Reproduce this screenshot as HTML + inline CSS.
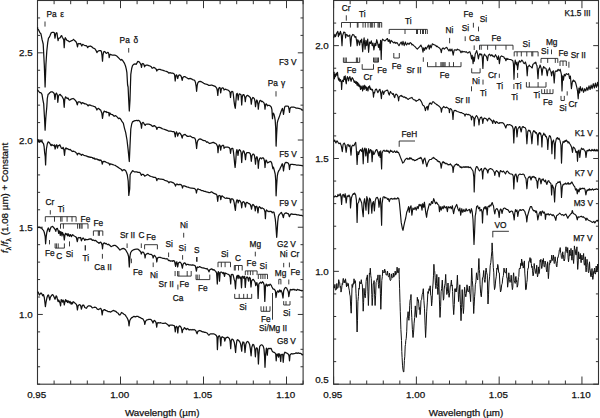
<!DOCTYPE html>
<html><head><meta charset="utf-8"><style>
html,body{margin:0;padding:0;background:#fff;width:600px;height:418px;overflow:hidden}
svg{display:block}
text{font-family:"Liberation Sans",sans-serif;fill:#111;stroke:#111;stroke-width:0.25px}
</style></head><body>
<svg width="600" height="418" viewBox="0 0 600 418">
<rect x="37.5" y="0.5" width="265.60" height="383.70" fill="none" stroke="#333" stroke-width="1.1"/>
<line x1="37.50" y1="384.20" x2="37.50" y2="376.50" stroke="#333" stroke-width="1.0"/>
<line x1="37.50" y1="0.50" x2="37.50" y2="8.20" stroke="#333" stroke-width="1.0"/>
<text x="36.70" y="398.30" font-size="9.8" text-anchor="middle" >0.95</text>
<line x1="54.10" y1="384.20" x2="54.10" y2="380.50" stroke="#333" stroke-width="1.0"/>
<line x1="54.10" y1="0.50" x2="54.10" y2="4.20" stroke="#333" stroke-width="1.0"/>
<line x1="70.70" y1="384.20" x2="70.70" y2="380.50" stroke="#333" stroke-width="1.0"/>
<line x1="70.70" y1="0.50" x2="70.70" y2="4.20" stroke="#333" stroke-width="1.0"/>
<line x1="87.30" y1="384.20" x2="87.30" y2="380.50" stroke="#333" stroke-width="1.0"/>
<line x1="87.30" y1="0.50" x2="87.30" y2="4.20" stroke="#333" stroke-width="1.0"/>
<line x1="103.90" y1="384.20" x2="103.90" y2="380.50" stroke="#333" stroke-width="1.0"/>
<line x1="103.90" y1="0.50" x2="103.90" y2="4.20" stroke="#333" stroke-width="1.0"/>
<line x1="120.50" y1="384.20" x2="120.50" y2="376.50" stroke="#333" stroke-width="1.0"/>
<line x1="120.50" y1="0.50" x2="120.50" y2="8.20" stroke="#333" stroke-width="1.0"/>
<text x="119.70" y="398.30" font-size="9.8" text-anchor="middle" >1.00</text>
<line x1="137.10" y1="384.20" x2="137.10" y2="380.50" stroke="#333" stroke-width="1.0"/>
<line x1="137.10" y1="0.50" x2="137.10" y2="4.20" stroke="#333" stroke-width="1.0"/>
<line x1="153.70" y1="384.20" x2="153.70" y2="380.50" stroke="#333" stroke-width="1.0"/>
<line x1="153.70" y1="0.50" x2="153.70" y2="4.20" stroke="#333" stroke-width="1.0"/>
<line x1="170.30" y1="384.20" x2="170.30" y2="380.50" stroke="#333" stroke-width="1.0"/>
<line x1="170.30" y1="0.50" x2="170.30" y2="4.20" stroke="#333" stroke-width="1.0"/>
<line x1="186.90" y1="384.20" x2="186.90" y2="380.50" stroke="#333" stroke-width="1.0"/>
<line x1="186.90" y1="0.50" x2="186.90" y2="4.20" stroke="#333" stroke-width="1.0"/>
<line x1="203.50" y1="384.20" x2="203.50" y2="376.50" stroke="#333" stroke-width="1.0"/>
<line x1="203.50" y1="0.50" x2="203.50" y2="8.20" stroke="#333" stroke-width="1.0"/>
<text x="202.70" y="398.30" font-size="9.8" text-anchor="middle" >1.05</text>
<line x1="220.10" y1="384.20" x2="220.10" y2="380.50" stroke="#333" stroke-width="1.0"/>
<line x1="220.10" y1="0.50" x2="220.10" y2="4.20" stroke="#333" stroke-width="1.0"/>
<line x1="236.70" y1="384.20" x2="236.70" y2="380.50" stroke="#333" stroke-width="1.0"/>
<line x1="236.70" y1="0.50" x2="236.70" y2="4.20" stroke="#333" stroke-width="1.0"/>
<line x1="253.30" y1="384.20" x2="253.30" y2="380.50" stroke="#333" stroke-width="1.0"/>
<line x1="253.30" y1="0.50" x2="253.30" y2="4.20" stroke="#333" stroke-width="1.0"/>
<line x1="269.90" y1="384.20" x2="269.90" y2="380.50" stroke="#333" stroke-width="1.0"/>
<line x1="269.90" y1="0.50" x2="269.90" y2="4.20" stroke="#333" stroke-width="1.0"/>
<line x1="286.50" y1="384.20" x2="286.50" y2="376.50" stroke="#333" stroke-width="1.0"/>
<line x1="286.50" y1="0.50" x2="286.50" y2="8.20" stroke="#333" stroke-width="1.0"/>
<text x="285.70" y="398.30" font-size="9.8" text-anchor="middle" >1.10</text>
<line x1="303.10" y1="384.20" x2="303.10" y2="380.50" stroke="#333" stroke-width="1.0"/>
<line x1="303.10" y1="0.50" x2="303.10" y2="4.20" stroke="#333" stroke-width="1.0"/>
<line x1="37.50" y1="384.20" x2="40.10" y2="384.20" stroke="#333" stroke-width="1.0"/>
<line x1="303.10" y1="384.20" x2="300.50" y2="384.20" stroke="#333" stroke-width="1.0"/>
<line x1="37.50" y1="366.76" x2="40.10" y2="366.76" stroke="#333" stroke-width="1.0"/>
<line x1="303.10" y1="366.76" x2="300.50" y2="366.76" stroke="#333" stroke-width="1.0"/>
<line x1="37.50" y1="349.32" x2="40.10" y2="349.32" stroke="#333" stroke-width="1.0"/>
<line x1="303.10" y1="349.32" x2="300.50" y2="349.32" stroke="#333" stroke-width="1.0"/>
<line x1="37.50" y1="331.88" x2="40.10" y2="331.88" stroke="#333" stroke-width="1.0"/>
<line x1="303.10" y1="331.88" x2="300.50" y2="331.88" stroke="#333" stroke-width="1.0"/>
<line x1="37.50" y1="314.44" x2="42.80" y2="314.44" stroke="#333" stroke-width="1.0"/>
<line x1="303.10" y1="314.44" x2="297.80" y2="314.44" stroke="#333" stroke-width="1.0"/>
<text x="32.70" y="317.94" font-size="9.8" text-anchor="end" >1.0</text>
<line x1="37.50" y1="297.00" x2="40.10" y2="297.00" stroke="#333" stroke-width="1.0"/>
<line x1="303.10" y1="297.00" x2="300.50" y2="297.00" stroke="#333" stroke-width="1.0"/>
<line x1="37.50" y1="279.55" x2="40.10" y2="279.55" stroke="#333" stroke-width="1.0"/>
<line x1="303.10" y1="279.55" x2="300.50" y2="279.55" stroke="#333" stroke-width="1.0"/>
<line x1="37.50" y1="262.11" x2="40.10" y2="262.11" stroke="#333" stroke-width="1.0"/>
<line x1="303.10" y1="262.11" x2="300.50" y2="262.11" stroke="#333" stroke-width="1.0"/>
<line x1="37.50" y1="244.67" x2="40.10" y2="244.67" stroke="#333" stroke-width="1.0"/>
<line x1="303.10" y1="244.67" x2="300.50" y2="244.67" stroke="#333" stroke-width="1.0"/>
<line x1="37.50" y1="227.23" x2="42.80" y2="227.23" stroke="#333" stroke-width="1.0"/>
<line x1="303.10" y1="227.23" x2="297.80" y2="227.23" stroke="#333" stroke-width="1.0"/>
<text x="32.70" y="230.73" font-size="9.8" text-anchor="end" >1.5</text>
<line x1="37.50" y1="209.79" x2="40.10" y2="209.79" stroke="#333" stroke-width="1.0"/>
<line x1="303.10" y1="209.79" x2="300.50" y2="209.79" stroke="#333" stroke-width="1.0"/>
<line x1="37.50" y1="192.35" x2="40.10" y2="192.35" stroke="#333" stroke-width="1.0"/>
<line x1="303.10" y1="192.35" x2="300.50" y2="192.35" stroke="#333" stroke-width="1.0"/>
<line x1="37.50" y1="174.91" x2="40.10" y2="174.91" stroke="#333" stroke-width="1.0"/>
<line x1="303.10" y1="174.91" x2="300.50" y2="174.91" stroke="#333" stroke-width="1.0"/>
<line x1="37.50" y1="157.47" x2="40.10" y2="157.47" stroke="#333" stroke-width="1.0"/>
<line x1="303.10" y1="157.47" x2="300.50" y2="157.47" stroke="#333" stroke-width="1.0"/>
<line x1="37.50" y1="140.03" x2="42.80" y2="140.03" stroke="#333" stroke-width="1.0"/>
<line x1="303.10" y1="140.03" x2="297.80" y2="140.03" stroke="#333" stroke-width="1.0"/>
<text x="32.70" y="143.53" font-size="9.8" text-anchor="end" >2.0</text>
<line x1="37.50" y1="122.59" x2="40.10" y2="122.59" stroke="#333" stroke-width="1.0"/>
<line x1="303.10" y1="122.59" x2="300.50" y2="122.59" stroke="#333" stroke-width="1.0"/>
<line x1="37.50" y1="105.15" x2="40.10" y2="105.15" stroke="#333" stroke-width="1.0"/>
<line x1="303.10" y1="105.15" x2="300.50" y2="105.15" stroke="#333" stroke-width="1.0"/>
<line x1="37.50" y1="87.70" x2="40.10" y2="87.70" stroke="#333" stroke-width="1.0"/>
<line x1="303.10" y1="87.70" x2="300.50" y2="87.70" stroke="#333" stroke-width="1.0"/>
<line x1="37.50" y1="70.26" x2="40.10" y2="70.26" stroke="#333" stroke-width="1.0"/>
<line x1="303.10" y1="70.26" x2="300.50" y2="70.26" stroke="#333" stroke-width="1.0"/>
<line x1="37.50" y1="52.82" x2="42.80" y2="52.82" stroke="#333" stroke-width="1.0"/>
<line x1="303.10" y1="52.82" x2="297.80" y2="52.82" stroke="#333" stroke-width="1.0"/>
<text x="32.70" y="56.32" font-size="9.8" text-anchor="end" >2.5</text>
<line x1="37.50" y1="35.38" x2="40.10" y2="35.38" stroke="#333" stroke-width="1.0"/>
<line x1="303.10" y1="35.38" x2="300.50" y2="35.38" stroke="#333" stroke-width="1.0"/>
<line x1="37.50" y1="17.94" x2="40.10" y2="17.94" stroke="#333" stroke-width="1.0"/>
<line x1="303.10" y1="17.94" x2="300.50" y2="17.94" stroke="#333" stroke-width="1.0"/>
<line x1="37.50" y1="0.50" x2="40.10" y2="0.50" stroke="#333" stroke-width="1.0"/>
<line x1="303.10" y1="0.50" x2="300.50" y2="0.50" stroke="#333" stroke-width="1.0"/>
<rect x="333.6" y="0.5" width="264.90" height="383.70" fill="none" stroke="#333" stroke-width="1.1"/>
<line x1="333.60" y1="384.20" x2="333.60" y2="376.50" stroke="#333" stroke-width="1.0"/>
<line x1="333.60" y1="0.50" x2="333.60" y2="8.20" stroke="#333" stroke-width="1.0"/>
<text x="332.80" y="398.30" font-size="9.8" text-anchor="middle" >0.95</text>
<line x1="350.16" y1="384.20" x2="350.16" y2="380.50" stroke="#333" stroke-width="1.0"/>
<line x1="350.16" y1="0.50" x2="350.16" y2="4.20" stroke="#333" stroke-width="1.0"/>
<line x1="366.71" y1="384.20" x2="366.71" y2="380.50" stroke="#333" stroke-width="1.0"/>
<line x1="366.71" y1="0.50" x2="366.71" y2="4.20" stroke="#333" stroke-width="1.0"/>
<line x1="383.27" y1="384.20" x2="383.27" y2="380.50" stroke="#333" stroke-width="1.0"/>
<line x1="383.27" y1="0.50" x2="383.27" y2="4.20" stroke="#333" stroke-width="1.0"/>
<line x1="399.83" y1="384.20" x2="399.83" y2="380.50" stroke="#333" stroke-width="1.0"/>
<line x1="399.83" y1="0.50" x2="399.83" y2="4.20" stroke="#333" stroke-width="1.0"/>
<line x1="416.38" y1="384.20" x2="416.38" y2="376.50" stroke="#333" stroke-width="1.0"/>
<line x1="416.38" y1="0.50" x2="416.38" y2="8.20" stroke="#333" stroke-width="1.0"/>
<text x="415.58" y="398.30" font-size="9.8" text-anchor="middle" >1.00</text>
<line x1="432.94" y1="384.20" x2="432.94" y2="380.50" stroke="#333" stroke-width="1.0"/>
<line x1="432.94" y1="0.50" x2="432.94" y2="4.20" stroke="#333" stroke-width="1.0"/>
<line x1="449.49" y1="384.20" x2="449.49" y2="380.50" stroke="#333" stroke-width="1.0"/>
<line x1="449.49" y1="0.50" x2="449.49" y2="4.20" stroke="#333" stroke-width="1.0"/>
<line x1="466.05" y1="384.20" x2="466.05" y2="380.50" stroke="#333" stroke-width="1.0"/>
<line x1="466.05" y1="0.50" x2="466.05" y2="4.20" stroke="#333" stroke-width="1.0"/>
<line x1="482.61" y1="384.20" x2="482.61" y2="380.50" stroke="#333" stroke-width="1.0"/>
<line x1="482.61" y1="0.50" x2="482.61" y2="4.20" stroke="#333" stroke-width="1.0"/>
<line x1="499.16" y1="384.20" x2="499.16" y2="376.50" stroke="#333" stroke-width="1.0"/>
<line x1="499.16" y1="0.50" x2="499.16" y2="8.20" stroke="#333" stroke-width="1.0"/>
<text x="498.36" y="398.30" font-size="9.8" text-anchor="middle" >1.05</text>
<line x1="515.72" y1="384.20" x2="515.72" y2="380.50" stroke="#333" stroke-width="1.0"/>
<line x1="515.72" y1="0.50" x2="515.72" y2="4.20" stroke="#333" stroke-width="1.0"/>
<line x1="532.27" y1="384.20" x2="532.27" y2="380.50" stroke="#333" stroke-width="1.0"/>
<line x1="532.27" y1="0.50" x2="532.27" y2="4.20" stroke="#333" stroke-width="1.0"/>
<line x1="548.83" y1="384.20" x2="548.83" y2="380.50" stroke="#333" stroke-width="1.0"/>
<line x1="548.83" y1="0.50" x2="548.83" y2="4.20" stroke="#333" stroke-width="1.0"/>
<line x1="565.39" y1="384.20" x2="565.39" y2="380.50" stroke="#333" stroke-width="1.0"/>
<line x1="565.39" y1="0.50" x2="565.39" y2="4.20" stroke="#333" stroke-width="1.0"/>
<line x1="581.94" y1="384.20" x2="581.94" y2="376.50" stroke="#333" stroke-width="1.0"/>
<line x1="581.94" y1="0.50" x2="581.94" y2="8.20" stroke="#333" stroke-width="1.0"/>
<text x="581.14" y="398.30" font-size="9.8" text-anchor="middle" >1.10</text>
<line x1="598.50" y1="384.20" x2="598.50" y2="380.50" stroke="#333" stroke-width="1.0"/>
<line x1="598.50" y1="0.50" x2="598.50" y2="4.20" stroke="#333" stroke-width="1.0"/>
<line x1="333.60" y1="384.20" x2="338.90" y2="384.20" stroke="#333" stroke-width="1.0"/>
<line x1="598.50" y1="384.20" x2="593.20" y2="384.20" stroke="#333" stroke-width="1.0"/>
<text x="328.80" y="383.40" font-size="9.8" text-anchor="end" >0.5</text>
<line x1="333.60" y1="361.63" x2="336.20" y2="361.63" stroke="#333" stroke-width="1.0"/>
<line x1="598.50" y1="361.63" x2="595.90" y2="361.63" stroke="#333" stroke-width="1.0"/>
<line x1="333.60" y1="339.06" x2="336.20" y2="339.06" stroke="#333" stroke-width="1.0"/>
<line x1="598.50" y1="339.06" x2="595.90" y2="339.06" stroke="#333" stroke-width="1.0"/>
<line x1="333.60" y1="316.49" x2="336.20" y2="316.49" stroke="#333" stroke-width="1.0"/>
<line x1="598.50" y1="316.49" x2="595.90" y2="316.49" stroke="#333" stroke-width="1.0"/>
<line x1="333.60" y1="293.92" x2="336.20" y2="293.92" stroke="#333" stroke-width="1.0"/>
<line x1="598.50" y1="293.92" x2="595.90" y2="293.92" stroke="#333" stroke-width="1.0"/>
<line x1="333.60" y1="271.35" x2="338.90" y2="271.35" stroke="#333" stroke-width="1.0"/>
<line x1="598.50" y1="271.35" x2="593.20" y2="271.35" stroke="#333" stroke-width="1.0"/>
<text x="328.80" y="274.85" font-size="9.8" text-anchor="end" >1.0</text>
<line x1="333.60" y1="248.78" x2="336.20" y2="248.78" stroke="#333" stroke-width="1.0"/>
<line x1="598.50" y1="248.78" x2="595.90" y2="248.78" stroke="#333" stroke-width="1.0"/>
<line x1="333.60" y1="226.21" x2="336.20" y2="226.21" stroke="#333" stroke-width="1.0"/>
<line x1="598.50" y1="226.21" x2="595.90" y2="226.21" stroke="#333" stroke-width="1.0"/>
<line x1="333.60" y1="203.64" x2="336.20" y2="203.64" stroke="#333" stroke-width="1.0"/>
<line x1="598.50" y1="203.64" x2="595.90" y2="203.64" stroke="#333" stroke-width="1.0"/>
<line x1="333.60" y1="181.06" x2="336.20" y2="181.06" stroke="#333" stroke-width="1.0"/>
<line x1="598.50" y1="181.06" x2="595.90" y2="181.06" stroke="#333" stroke-width="1.0"/>
<line x1="333.60" y1="158.49" x2="338.90" y2="158.49" stroke="#333" stroke-width="1.0"/>
<line x1="598.50" y1="158.49" x2="593.20" y2="158.49" stroke="#333" stroke-width="1.0"/>
<text x="328.80" y="161.99" font-size="9.8" text-anchor="end" >1.5</text>
<line x1="333.60" y1="135.92" x2="336.20" y2="135.92" stroke="#333" stroke-width="1.0"/>
<line x1="598.50" y1="135.92" x2="595.90" y2="135.92" stroke="#333" stroke-width="1.0"/>
<line x1="333.60" y1="113.35" x2="336.20" y2="113.35" stroke="#333" stroke-width="1.0"/>
<line x1="598.50" y1="113.35" x2="595.90" y2="113.35" stroke="#333" stroke-width="1.0"/>
<line x1="333.60" y1="90.78" x2="336.20" y2="90.78" stroke="#333" stroke-width="1.0"/>
<line x1="598.50" y1="90.78" x2="595.90" y2="90.78" stroke="#333" stroke-width="1.0"/>
<line x1="333.60" y1="68.21" x2="336.20" y2="68.21" stroke="#333" stroke-width="1.0"/>
<line x1="598.50" y1="68.21" x2="595.90" y2="68.21" stroke="#333" stroke-width="1.0"/>
<line x1="333.60" y1="45.64" x2="338.90" y2="45.64" stroke="#333" stroke-width="1.0"/>
<line x1="598.50" y1="45.64" x2="593.20" y2="45.64" stroke="#333" stroke-width="1.0"/>
<text x="328.80" y="49.14" font-size="9.8" text-anchor="end" >2.0</text>
<line x1="333.60" y1="23.07" x2="336.20" y2="23.07" stroke="#333" stroke-width="1.0"/>
<line x1="598.50" y1="23.07" x2="595.90" y2="23.07" stroke="#333" stroke-width="1.0"/>
<line x1="333.60" y1="0.50" x2="336.20" y2="0.50" stroke="#333" stroke-width="1.0"/>
<line x1="598.50" y1="0.50" x2="595.90" y2="0.50" stroke="#333" stroke-width="1.0"/>
<text x="162.20" y="415.80" font-size="9.8" text-anchor="middle" >Wavelength (µm)</text>
<text x="466.00" y="415.80" font-size="9.8" text-anchor="middle" >Wavelength (µm)</text>
<polyline points="37.6,27.2 37.6,28.9 38.4,29.6 39.7,32.3 41.0,34.0 42.1,39.7 43.2,44.0 44.3,65.0 45.1,87.0 45.9,65.0 46.8,51.0 47.7,42.7 48.5,38.1 49.3,37.3 50.2,35.2 51.0,33.1 52.3,32.3 53.5,32.3 54.3,32.7 55.0,38.1 55.6,34.3 56.4,32.7 57.0,33.1 57.7,38.5 58.1,40.6 58.5,38.5 59.3,38.1 60.2,37.7 61.0,36.0 61.7,35.6 62.3,37.3 63.1,38.5 63.7,39.8 64.2,47.7 64.8,39.3 65.3,37.7 66.0,38.9 66.8,40.2 67.7,40.6 68.5,41.0 69.3,41.8 70.2,41.4 71.0,41.0 71.8,40.6 72.7,40.2 73.5,39.3 74.3,40.2 75.2,41.0 76.0,41.8 76.8,43.5 77.5,46.8 78.1,43.9 78.9,43.5 79.8,43.9 80.6,43.5 81.4,45.2 81.8,46.0 82.7,44.3 83.5,44.8 84.3,45.2 85.2,45.6 86.0,45.6 86.8,46.0 87.7,47.7 88.5,46.4 89.3,46.4 90.2,46.0 91.0,46.4 91.8,46.8 92.7,47.7 93.5,48.1 94.3,48.5 95.1,49.0 96.2,50.8 96.9,52.6 97.6,51.5 98.7,50.8 99.7,50.5 100.8,50.5 101.5,51.9 102.0,55.5 102.5,61.2 103.0,54.8 103.7,51.9 104.4,51.5 105.1,51.9 105.8,53.0 106.6,53.3 107.3,52.6 108.0,52.3 108.7,53.3 109.2,57.6 109.8,54.8 110.5,54.4 111.6,54.8 112.7,55.1 113.7,55.1 114.8,55.1 115.9,55.5 117.0,56.2 118.0,57.3 119.1,58.4 120.0,59.4 120.7,60.2 121.6,59.4 122.4,60.2 123.4,61.6 124.5,63.4 125.6,66.3 126.3,69.1 126.9,72.7 127.6,85.0 128.1,87.0 128.7,100.0 129.3,111.0 130.0,99.8 130.8,74.3 131.7,68.5 132.5,65.6 133.8,64.3 135.0,63.9 136.3,64.3 137.1,62.7 137.9,61.4 139.2,61.8 140.4,63.5 141.1,65.2 141.5,67.3 142.1,63.9 142.9,63.5 143.8,64.3 144.6,66.8 145.2,65.6 146.3,65.2 147.5,65.2 148.8,65.6 150.0,66.0 151.3,66.8 152.1,68.1 152.9,68.1 153.8,67.3 154.6,67.7 155.4,68.5 156.3,69.3 156.8,71.0 157.5,69.8 158.8,69.3 160.0,69.3 161.3,69.8 162.5,70.2 163.8,70.6 165.0,71.0 166.3,71.4 167.5,71.8 168.8,73.1 170.0,72.7 171.3,73.1 172.5,73.1 173.8,73.5 174.6,74.8 175.2,81.0 175.8,76.0 176.5,74.8 177.1,76.0 177.7,78.5 178.3,76.0 179.2,74.8 180.0,75.2 180.5,75.4 181.3,76.7 182.2,80.4 182.8,77.5 183.8,76.7 185.1,76.7 186.3,77.5 187.6,78.3 188.8,78.8 190.1,78.3 191.3,78.8 192.6,79.6 193.8,80.0 194.7,80.4 195.5,82.5 196.2,86.7 196.6,91.3 197.2,85.4 197.8,82.9 198.8,81.7 200.1,81.3 201.3,81.7 202.6,82.5 203.8,83.3 205.1,83.8 206.3,84.2 207.6,84.6 208.8,85.4 210.1,85.4 211.3,85.0 212.6,85.4 213.8,85.8 215.1,86.3 215.9,87.1 216.8,88.3 217.3,90.8 217.8,95.4 218.4,89.2 219.3,87.5 220.1,87.9 220.7,92.9 221.3,89.2 222.2,87.9 223.0,87.9 223.8,88.8 224.0,90.0 225.3,89.2 226.5,89.6 227.8,90.0 229.0,90.8 230.0,92.1 230.5,97.5 231.1,92.5 231.9,91.3 232.8,91.7 233.3,94.2 234.0,100.8 234.7,105.8 235.3,108.3 235.8,102.5 236.5,94.2 237.2,93.3 237.8,95.8 238.2,100.0 238.8,95.0 239.4,93.8 240.3,94.2 241.1,95.0 241.7,105.0 242.3,96.7 243.0,94.6 243.8,94.6 244.7,96.7 245.3,101.7 245.8,97.5 246.7,95.8 247.5,95.4 248.3,95.8 249.4,96.7 250.3,97.5 250.8,99.6 251.3,104.2 251.9,99.2 252.8,97.5 253.6,97.9 254.4,98.8 255.0,101.7 255.5,106.7 256.1,102.5 256.8,100.0 257.3,100.8 258.0,105.0 258.3,109.2 258.8,104.2 259.7,100.8 260.7,100.4 261.5,101.7 262.3,101.3 263.2,102.1 264.0,102.9 264.6,105.0 265.0,109.2 265.5,105.0 266.1,103.8 266.7,104.2 267.3,105.8 268.0,105.4 269.2,105.4 270.4,106.0 271.3,107.2 271.9,109.6 272.5,118.6 272.9,113.8 273.4,113.2 274.0,114.4 274.6,116.8 275.2,120.4 275.7,128.0 276.1,146.1 276.6,135.0 277.3,122.8 277.9,120.4 278.8,118.0 279.7,115.6 280.3,113.8 280.9,112.0 281.5,110.5 282.1,109.0 282.5,108.4 283.0,110.8 283.5,114.4 283.9,112.0 284.5,107.8 285.1,106.3 286.0,106.0 287.2,106.0 288.4,106.3 289.0,109.0 289.5,112.3 289.9,109.0 290.5,107.5 291.4,107.2 292.6,107.2 293.8,107.2 295.0,107.5 296.2,108.1 297.4,108.1 298.6,108.4 299.8,108.7 301.0,109.0 302.0,110.1 303.0,109.8" fill="none" stroke="#111" stroke-width="1.25" stroke-linejoin="round"/>
<polyline points="37.6,89.6 37.6,90.7 38.4,90.8 39.6,92.5 40.8,92.5 42.0,94.4 42.9,99.8 43.7,103.9 44.5,118.0 45.1,130.2 45.8,118.0 46.8,106.8 47.3,98.5 48.1,94.3 48.9,93.9 49.8,92.7 51.0,91.8 52.3,91.8 53.5,92.7 54.3,93.9 55.0,99.3 55.6,94.3 56.4,93.1 57.3,94.8 57.8,102.3 58.5,96.0 59.3,94.8 60.2,94.3 61.0,95.6 61.8,96.0 62.7,97.7 63.5,99.3 64.2,107.3 64.8,99.3 65.6,96.8 66.4,97.7 67.3,98.5 68.1,98.1 68.9,99.8 69.8,100.2 70.6,99.3 71.8,98.9 73.1,98.5 74.3,99.3 75.6,100.6 76.4,101.8 77.3,104.8 78.1,101.8 79.3,101.8 80.6,102.3 81.4,103.9 82.3,102.7 83.5,103.1 84.8,103.9 86.0,103.9 87.3,104.8 88.1,106.0 88.9,104.8 90.2,105.2 91.4,105.6 92.7,106.0 93.9,106.4 95.2,106.8 96.2,108.3 96.9,110.0 97.6,108.8 98.7,108.4 99.7,109.6 100.6,109.9 101.8,113.0 102.5,118.3 103.3,113.0 104.2,111.1 105.1,111.8 106.0,111.5 106.9,112.5 107.8,112.3 108.7,112.5 109.2,116.0 109.8,113.0 111.2,114.5 112.6,114.7 114.2,116.3 115.7,115.6 117.3,117.1 118.5,118.6 119.7,118.1 120.9,119.5 122.1,121.7 123.3,123.1 124.5,128.3 125.7,132.6 127.0,140.0 128.1,149.4 129.3,161.5 130.0,145.9 130.8,129.0 131.7,124.0 132.5,121.9 133.8,121.1 135.0,120.7 135.8,120.7 136.7,120.3 137.5,120.8 138.3,120.3 139.6,121.1 140.4,122.3 141.1,124.8 141.5,128.2 142.1,123.2 142.9,122.3 143.8,123.2 144.6,124.8 145.2,125.3 145.8,124.4 147.1,124.0 148.3,124.0 149.6,124.4 150.8,124.8 152.1,126.1 152.9,126.5 153.8,125.7 154.6,125.7 155.4,126.5 156.3,127.3 156.8,129.4 157.5,127.8 158.3,127.3 159.6,127.3 160.8,127.8 162.1,128.6 163.3,129.0 164.6,129.4 165.8,129.8 167.1,130.3 168.3,131.1 169.6,131.1 170.8,131.1 172.1,131.5 173.3,131.5 174.2,131.9 174.8,134.0 175.3,136.9 175.8,133.2 176.5,131.9 177.1,133.2 177.7,136.1 178.3,134.0 179.2,132.8 180.0,133.2 180.5,133.9 181.3,135.2 182.2,138.1 182.8,135.6 183.8,134.8 185.1,134.3 186.3,135.6 187.6,136.4 188.8,136.4 190.1,136.0 191.3,136.8 192.6,137.7 193.8,137.7 194.7,138.1 195.5,139.8 196.2,144.3 196.6,148.5 197.2,142.7 197.8,140.6 198.8,139.3 200.1,138.9 201.3,139.3 202.6,140.2 203.8,140.6 205.1,140.6 205.9,141.4 206.8,142.3 207.6,141.8 208.4,142.7 209.7,143.5 210.9,143.1 212.2,142.7 213.4,142.3 214.7,143.1 215.9,143.5 216.8,144.8 217.6,146.8 218.0,152.7 218.6,146.8 219.3,144.8 220.1,145.6 220.7,150.2 221.3,146.4 222.2,145.6 223.0,145.2 223.8,146.0 224.0,148.3 225.3,147.1 226.5,147.1 227.8,147.1 229.0,147.5 230.0,148.8 230.5,153.3 231.1,149.2 231.9,148.3 232.8,148.3 233.3,150.8 234.0,156.7 234.7,164.2 235.1,167.5 235.7,161.7 236.3,152.5 236.9,149.6 237.5,151.7 238.0,155.4 238.6,150.8 239.4,149.6 240.3,150.4 241.1,152.5 241.7,162.5 242.3,154.2 243.2,150.8 244.0,151.3 244.8,154.2 245.5,159.6 246.1,154.2 246.9,152.5 247.8,152.5 248.6,152.5 249.4,152.9 250.3,153.8 250.8,156.7 251.3,161.3 251.9,155.8 252.8,154.2 253.6,154.2 254.4,155.4 255.0,159.2 255.5,164.2 256.1,158.3 256.8,156.7 257.3,157.5 258.0,162.5 258.3,168.3 258.8,161.7 259.7,158.3 260.7,157.9 261.5,158.8 262.3,157.9 263.2,157.9 264.0,159.2 264.6,161.7 265.0,167.5 265.5,161.7 266.1,160.0 266.7,160.8 267.3,162.9 268.0,162.6 269.2,162.0 270.4,161.4 271.3,162.0 271.9,163.8 272.5,166.8 272.9,168.6 273.4,167.1 274.0,169.2 274.6,171.6 275.2,174.0 275.7,180.0 276.1,195.8 276.6,186.0 277.3,175.8 277.9,172.8 278.8,170.7 279.7,169.5 280.3,168.0 280.9,166.8 281.5,165.6 282.1,164.1 282.5,163.8 283.0,166.8 283.5,171.0 283.9,168.0 284.5,164.4 285.1,162.9 286.0,162.3 287.2,162.6 288.4,163.2 289.0,165.0 289.5,169.5 289.9,166.2 290.5,164.4 291.4,164.4 292.6,164.4 293.8,164.7 295.0,164.7 296.2,165.0 297.4,165.0 298.6,165.0 299.8,165.3 301.0,165.3 302.0,165.8 303.0,165.6" fill="none" stroke="#111" stroke-width="1.25" stroke-linejoin="round"/>
<polyline points="37.7,139.0 38.1,141.9 38.7,140.3 39.3,142.3 40.2,140.7 41.0,141.9 41.8,140.7 42.7,142.8 43.5,143.6 44.1,146.5 44.6,152.3 45.2,156.5 45.6,164.9 46.0,154.8 46.4,149.0 47.3,144.0 48.1,141.9 48.9,142.3 49.8,143.2 50.6,144.8 51.2,145.7 51.8,144.4 52.7,145.3 53.5,145.7 54.3,144.8 55.2,149.0 55.8,145.7 56.7,144.8 57.5,148.2 58.1,145.7 58.9,145.7 59.8,144.8 60.6,146.5 61.4,148.2 62.3,148.6 63.1,147.3 63.9,149.8 64.5,155.3 65.2,149.0 66.0,147.8 66.8,149.0 67.7,148.6 68.5,149.4 69.3,149.8 70.2,149.4 71.0,150.3 71.8,151.1 72.7,151.5 73.5,151.1 74.3,151.5 75.2,151.9 76.0,152.8 76.8,153.2 77.3,154.8 78.1,153.6 78.9,153.2 79.8,154.0 80.6,154.0 81.4,155.3 82.3,154.4 83.1,154.8 83.9,155.3 85.2,155.7 86.0,155.8 87.3,156.3 88.2,157.0 89.0,156.7 89.8,157.3 90.7,157.1 92.3,157.5 93.2,158.5 94.0,157.9 94.8,159.1 95.7,158.8 97.3,159.2 98.2,160.1 99.0,159.6 99.8,160.5 100.7,160.0 101.7,161.3 102.3,164.2 103.0,161.7 104.0,161.3 105.3,161.7 106.5,162.5 107.8,162.9 109.0,163.3 109.7,165.0 110.3,163.8 111.5,164.2 112.8,164.6 114.0,165.0 115.3,165.4 116.5,166.3 117.8,167.1 119.0,167.9 120.3,168.8 121.5,169.6 122.3,170.8 123.2,170.0 124.0,169.6 124.8,170.0 125.7,170.8 126.5,172.5 127.3,175.0 128.2,181.0 128.8,195.4 129.7,189.0 130.1,174.8 130.9,173.2 131.8,171.9 132.6,170.7 133.4,171.1 134.3,171.9 135.5,171.9 136.8,171.9 138.0,172.3 139.3,172.3 140.5,173.2 141.3,175.3 142.2,174.4 143.0,174.4 143.8,174.8 144.7,176.1 145.5,175.7 146.3,175.3 147.6,174.4 148.8,175.3 150.1,176.1 151.3,176.5 152.6,176.9 153.8,177.3 155.1,177.3 156.2,178.2 156.8,180.7 157.3,179.0 158.4,178.6 159.7,179.0 160.9,179.0 162.2,179.4 163.4,179.4 164.7,180.3 165.9,180.7 167.2,181.1 168.4,181.9 169.0,182.8 169.7,181.9 170.9,181.9 172.2,182.3 173.4,182.8 174.3,183.6 175.1,184.8 175.5,186.1 176.2,184.4 177.0,184.0 178.0,184.8 178.5,184.7 179.8,184.3 181.0,184.7 182.0,185.9 182.5,188.0 183.1,185.9 184.3,185.9 185.6,186.3 186.8,186.8 188.1,187.2 189.3,187.6 190.6,188.0 191.8,188.0 193.1,188.4 194.3,188.4 195.3,189.3 196.0,190.5 196.4,193.0 197.0,190.1 197.8,188.8 198.9,189.3 200.2,189.7 201.4,190.5 202.7,190.5 203.9,191.3 205.2,191.3 206.4,191.8 207.7,192.2 208.9,192.6 210.2,192.6 211.4,191.8 212.7,192.6 213.9,193.4 215.2,193.8 216.4,194.3 217.0,195.5 217.7,201.3 218.3,196.3 219.3,195.5 220.2,195.9 220.8,199.7 221.4,196.3 222.3,195.9 223.1,196.8 223.9,197.2 224.8,198.0 226.0,198.4 226.5,197.8 227.8,198.3 229.0,198.3 230.0,199.1 230.5,202.8 231.1,199.1 231.9,198.7 232.8,199.1 233.6,200.3 234.2,202.8 234.8,207.0 235.4,210.3 236.1,202.8 236.9,199.9 237.8,200.3 238.2,202.8 238.6,200.8 239.4,200.3 240.3,201.2 241.1,202.8 241.7,207.8 242.3,202.8 243.2,201.6 244.0,202.0 244.8,203.7 245.5,207.0 246.1,202.8 246.9,202.4 247.8,202.8 248.6,203.7 249.4,203.7 250.3,204.5 251.1,207.0 251.5,209.1 252.2,205.3 253.0,204.5 253.8,205.3 254.7,206.6 255.3,210.8 255.8,206.6 256.7,206.2 257.3,207.8 258.0,212.8 258.6,207.8 259.4,206.6 260.3,207.4 261.1,208.7 261.9,207.8 262.8,208.3 263.6,208.7 264.4,209.9 265.0,212.0 265.4,218.7 265.8,212.0 266.5,209.9 267.3,210.8 268.2,211.6 269.0,211.2 269.8,211.6 270.7,211.2 271.5,211.6 272.3,212.8 273.2,212.0 274.0,212.4 274.6,215.3 275.3,219.1 275.9,225.8 276.3,231.6 276.7,237.3 277.2,230.6 277.7,222.0 278.4,216.3 279.4,214.4 280.4,213.4 281.3,212.4 282.1,213.9 282.7,215.3 283.4,217.7 284.0,214.4 284.9,213.4 286.1,212.9 287.2,213.4 288.5,213.9 289.4,216.7 290.4,214.4 291.6,213.9 293.0,214.4 294.2,214.4 295.7,214.4 297.1,214.8 298.5,214.8 300.0,215.3 301.4,215.3 302.2,215.8 303.0,215.8" fill="none" stroke="#111" stroke-width="1.25" stroke-linejoin="round"/>
<polyline points="37.7,227.1 38.5,227.5 39.3,227.1 40.2,227.9 41.0,227.9 41.8,228.3 42.7,229.6 43.5,230.4 44.3,232.5 45.2,236.7 45.6,243.8 46.2,236.7 46.8,232.5 47.7,229.2 48.3,227.9 48.9,229.2 49.5,231.7 50.2,229.2 51.0,227.1 51.8,226.7 52.7,226.3 53.5,227.5 54.3,228.3 55.2,229.6 55.8,231.3 56.4,228.8 57.3,228.3 58.1,230.4 58.7,233.3 59.2,230.8 59.8,232.1 60.3,235.4 60.8,231.7 61.4,232.5 62.0,235.8 62.5,232.5 63.1,233.8 63.7,235.0 64.3,240.0 65.0,234.6 65.6,233.3 66.4,234.6 67.0,233.8 67.7,235.8 68.3,233.8 68.9,235.4 69.5,236.3 70.2,234.6 70.8,235.0 71.4,236.7 72.0,235.4 72.7,234.6 73.3,235.4 73.9,235.8 74.8,236.3 75.6,236.7 76.4,237.5 77.3,241.7 78.1,237.9 78.9,237.5 79.8,237.9 80.6,237.5 81.4,240.8 82.3,238.8 83.1,237.9 83.9,238.8 84.8,240.4 85.6,239.2 86.5,239.6 87.8,239.6 89.0,239.2 90.3,238.8 91.5,239.2 92.3,240.4 93.2,240.0 94.0,240.4 94.8,240.8 95.7,240.4 96.5,241.3 97.3,242.1 98.2,242.5 99.0,243.3 99.8,242.5 100.7,242.1 101.5,243.3 102.2,245.4 102.5,248.8 103.0,244.2 103.6,243.3 104.4,242.9 105.3,243.8 106.1,243.3 106.9,244.2 107.8,244.6 108.6,244.2 109.4,245.0 110.3,245.8 111.1,246.7 111.9,246.3 112.8,245.8 114.0,245.4 115.3,245.4 116.5,246.3 117.8,247.5 119.0,248.8 119.8,250.0 120.7,249.6 121.9,248.8 123.2,248.3 124.4,248.8 125.7,250.0 126.7,251.7 127.8,253.8 128.6,256.5 129.3,267.0 130.0,256.0 130.7,252.5 131.9,250.8 133.2,250.0 134.0,249.6 135.0,249.3 136.3,249.0 137.7,249.0 138.7,249.7 139.7,250.7 140.7,251.7 141.3,254.0 142.0,252.3 142.7,252.0 143.5,252.3 144.0,253.3 144.7,255.0 145.1,258.0 145.5,255.0 146.1,254.3 147.0,253.7 148.0,253.3 149.0,254.0 150.0,254.3 151.0,254.3 152.0,255.0 152.7,256.0 153.1,258.0 153.7,256.0 154.3,255.3 155.0,256.0 155.7,257.0 156.3,258.0 156.8,262.0 157.3,258.7 158.0,257.7 159.0,257.3 160.0,257.3 161.0,257.7 162.0,258.0 163.0,258.3 164.0,258.3 165.0,258.7 166.0,259.0 167.0,258.7 167.7,259.0 168.3,260.3 169.0,260.7 169.7,260.3 170.3,261.0 171.3,261.0 172.0,260.7 172.7,261.3 173.4,260.6 174.5,261.0 175.3,264.8 175.6,266.3 176.2,262.5 176.8,261.8 177.4,264.8 177.7,267.0 178.3,263.3 179.0,262.5 179.8,262.1 180.5,262.5 181.3,263.6 182.0,266.3 182.4,268.1 182.9,264.8 183.5,263.6 184.6,262.9 185.4,263.3 186.1,265.1 186.9,264.4 188.0,264.4 189.1,264.8 190.3,264.8 191.4,265.1 192.5,264.8 193.6,265.1 194.8,265.5 195.5,266.3 196.1,269.3 196.4,271.1 196.9,268.1 197.4,267.0 198.1,267.4 198.9,267.0 199.6,266.6 200.4,267.0 201.1,267.4 201.9,267.8 203.0,267.8 204.1,268.1 205.3,268.5 206.4,268.9 207.1,268.5 207.9,269.6 208.6,270.8 209.0,271.9 209.6,270.0 210.5,269.3 211.6,268.9 212.8,269.6 213.0,270.1 214.0,269.7 214.9,270.6 215.9,271.6 216.6,273.0 217.3,284.0 217.8,273.5 218.3,271.6 218.9,272.5 219.5,281.1 220.2,272.5 221.1,272.0 222.1,272.5 223.0,273.5 223.7,272.5 224.5,276.4 225.2,273.0 226.4,273.5 227.4,274.0 228.3,274.4 229.3,275.0 230.2,277.3 230.7,284.0 231.2,274.9 232.1,274.4 233.1,274.9 234.1,279.2 234.8,281.1 235.5,288.8 236.0,281.1 236.7,276.4 237.4,275.4 238.1,278.7 238.6,275.4 239.3,276.5 240.0,278.3 240.8,277.0 241.5,287.8 242.2,276.4 243.1,276.4 243.8,278.3 244.6,276.4 245.3,287.4 246.0,278.3 247.0,276.8 247.9,278.3 248.6,281.1 249.2,277.3 250.3,278.3 251.0,287.0 251.6,281.0 252.4,279.8 253.3,279.4 254.3,280.8 255.3,282.7 255.7,285.6 256.2,283.7 256.9,282.7 257.7,287.0 258.1,298.5 258.8,284.1 259.6,283.2 260.5,282.2 261.5,283.2 262.4,281.7 263.4,282.7 264.2,285.1 264.8,301.4 265.5,286.1 266.3,284.1 267.2,286.1 268.2,284.6 269.1,285.6 270.1,284.1 271.1,285.1 272.0,287.0 273.0,288.9 274.4,289.4 275.4,290.8 276.0,297.5 276.8,292.3 277.8,290.8 278.7,292.3 279.7,289.9 280.4,291.8 281.1,290.4 282.1,292.8 283.0,298.0 283.7,290.8 284.6,288.4 285.6,287.5 286.6,288.0 287.5,289.9 288.3,291.8 288.8,296.6 289.4,292.8 290.3,289.4 291.2,290.1 292.1,289.4 293.0,289.9 293.9,289.1 294.8,290.0 295.6,289.8 296.5,290.4 297.4,289.4 298.3,289.9 299.2,289.8 300.1,290.5 301.0,290.3 301.9,290.9 302.8,290.3" fill="none" stroke="#111" stroke-width="1.25" stroke-linejoin="round"/>
<polyline points="37.7,291.7 38.5,292.9 39.3,295.0 40.2,293.8 41.0,292.9 41.8,293.8 42.7,295.8 43.5,294.6 44.3,297.5 45.0,303.3 45.4,306.7 46.0,302.5 46.8,298.3 47.7,295.4 48.5,295.0 49.2,297.5 49.8,300.0 50.3,297.5 51.0,296.3 51.8,295.0 52.7,294.6 53.5,295.8 54.3,297.5 55.0,299.2 55.6,297.5 56.2,295.8 56.8,296.7 57.5,299.6 58.1,301.7 58.7,300.0 59.3,301.3 60.0,302.9 60.6,305.8 61.2,299.6 61.8,300.4 62.5,302.1 63.1,300.0 63.7,301.7 64.3,305.0 65.0,301.3 65.6,299.6 66.2,301.3 66.8,300.4 67.5,302.5 68.1,300.8 68.7,301.7 69.3,302.9 70.0,301.3 70.6,302.9 71.2,304.2 71.8,302.5 72.5,303.8 73.1,301.7 73.9,302.1 74.8,302.9 75.6,303.8 76.4,304.2 77.0,306.7 77.4,310.0 78.1,305.8 78.9,305.0 79.8,304.6 80.6,305.4 81.4,309.2 82.3,305.8 83.1,305.0 83.9,305.4 84.8,307.5 85.6,307.9 86.5,308.3 87.3,306.7 88.6,305.8 89.8,305.8 91.1,306.3 92.3,307.9 93.6,307.5 94.8,307.1 96.1,307.5 97.3,309.2 98.6,309.6 99.8,308.8 100.7,308.3 101.5,310.0 102.2,315.0 102.8,310.8 103.6,310.0 104.4,309.6 105.7,310.4 106.9,310.8 108.2,311.7 109.4,311.7 110.7,312.1 111.9,311.3 113.2,310.4 114.4,310.8 115.7,311.3 116.9,312.5 118.2,313.3 119.0,314.6 119.8,315.0 120.7,313.8 121.5,312.5 122.8,313.3 124.0,314.2 125.3,315.0 126.1,316.3 126.9,317.5 127.8,319.2 128.6,321.7 129.0,325.8 129.7,320.8 130.5,319.2 131.5,317.9 132.8,317.1 134.0,316.3 135.3,316.8 136.5,316.3 137.8,316.3 139.0,317.2 140.3,317.6 141.5,318.4 142.8,318.8 143.8,320.5 144.4,321.8 144.8,324.3 145.5,321.3 146.5,320.1 147.8,319.7 149.0,319.3 150.3,319.3 151.5,320.1 152.3,321.3 153.0,323.0 153.6,321.3 154.4,320.5 155.3,321.3 156.1,322.6 156.7,327.2 157.3,323.0 158.2,322.6 159.0,323.0 160.3,322.6 161.5,323.0 162.8,323.4 164.0,323.4 165.3,323.0 166.5,323.8 167.8,324.7 168.6,325.5 169.2,326.3 169.8,325.1 171.1,325.1 172.3,325.1 173.6,325.5 174.4,325.9 174.8,328.0 175.3,331.8 175.8,327.2 176.5,326.3 177.2,327.2 177.8,333.0 178.3,328.0 179.0,326.3 179.8,325.9 180.7,326.8 181.5,328.4 182.2,332.6 182.8,329.7 183.6,329.3 184.4,327.6 185.4,328.5 186.3,329.5 187.3,328.5 188.2,329.0 189.2,330.0 190.1,329.5 191.1,330.0 192.1,329.5 193.0,330.0 194.0,329.5 194.9,330.0 195.9,330.9 196.6,332.8 197.1,333.8 197.8,331.4 198.8,330.9 199.7,330.5 200.7,330.9 201.6,331.4 202.6,331.9 203.6,331.9 204.5,332.4 205.5,332.4 206.4,332.8 207.4,333.3 208.3,334.8 209.0,335.2 209.8,334.3 210.7,333.8 211.7,333.8 212.7,333.8 213.6,333.8 214.6,334.3 215.5,334.8 216.5,335.7 217.0,337.2 217.4,349.6 217.9,340.0 218.4,336.2 219.4,335.7 220.1,337.2 220.8,345.8 221.3,338.1 222.2,336.7 223.2,337.2 224.1,337.6 224.8,341.0 225.6,338.1 226.5,337.6 227.5,337.2 228.5,337.6 229.4,338.6 230.1,341.0 230.7,348.7 231.3,340.5 232.0,339.1 232.4,339.1 233.3,340.0 234.3,342.4 235.0,347.2 235.6,352.5 236.2,345.3 236.9,340.5 237.7,339.6 238.6,340.5 239.6,341.5 240.5,343.4 241.3,348.2 241.7,351.1 242.2,345.3 242.9,342.0 243.9,342.4 244.5,346.3 245.0,352.5 245.8,344.4 246.7,342.0 247.7,341.5 248.7,342.4 249.6,344.4 250.4,349.1 251.1,355.8 251.8,347.2 252.8,344.4 253.7,344.8 254.7,348.2 255.4,356.8 256.0,349.1 256.8,347.7 257.6,349.1 258.0,354.9 258.4,364.0 258.9,354.9 259.7,346.3 260.6,345.3 261.6,344.8 262.5,345.3 263.3,346.3 264.0,349.1 264.6,356.8 265.0,367.3 265.6,354.9 266.4,348.2 266.7,348.6 267.3,355.1 267.8,349.3 268.9,348.3 269.9,348.6 271.0,348.3 272.1,350.8 272.8,351.8 273.5,352.2 274.6,352.6 275.7,353.6 276.2,360.8 276.8,354.4 277.5,355.8 278.1,353.6 278.6,357.2 279.1,354.5 279.5,354.0 280.0,354.4 280.7,361.5 281.2,355.1 281.8,354.4 282.7,354.4 283.2,362.3 283.8,355.8 284.3,353.3 285.0,352.2 285.7,352.6 286.5,352.9 287.5,353.6 288.6,354.4 289.1,356.5 289.5,360.8 290.0,355.1 290.8,354.0 291.8,353.6 292.9,354.0 294.0,353.6 295.1,353.3 296.2,352.9 297.2,353.3 298.3,352.9 299.4,353.3 300.5,353.3 301.5,354.0 302.2,354.9 303.0,354.4" fill="none" stroke="#111" stroke-width="1.25" stroke-linejoin="round"/>
<polyline points="333.7,37.9 334.8,34.4 335.4,36.7 336.0,35.5 336.6,33.2 337.8,31.4 338.4,36.7 339.0,33.0 339.6,35.0 340.4,31.4 341.2,34.0 342.0,45.7 342.6,35.6 343.8,32.0 345.0,32.6 345.6,37.9 346.2,34.4 347.4,35.0 348.0,36.4 348.6,36.1 349.8,35.0 350.7,46.3 351.5,36.7 352.7,34.4 353.9,35.0 354.5,36.5 355.1,37.3 355.8,36.5 356.6,40.9 357.2,45.7 357.8,39.7 358.7,41.5 359.6,45.1 360.3,40.3 361.1,42.1 361.7,39.1 362.7,51.7 363.5,42.1 364.1,37.9 365.1,49.3 365.9,40.3 366.7,45.7 367.7,39.1 368.6,52.3 369.5,42.1 370.4,43.5 371.3,40.9 372.2,45.7 373.0,43.0 373.9,49.9 374.9,43.3 375.8,45.7 376.7,39.7 377.6,43.0 378.5,47.5 379.2,44.0 379.9,49.9 380.6,40.3 381.2,59.5 381.8,41.5 382.6,39.1 383.8,40.3 385.0,40.9 386.2,39.7 387.4,38.5 388.3,41.5 389.2,39.7 390.2,43.3 391.0,40.3 392.2,41.5 393.4,42.7 394.0,42.9 394.6,42.0 395.8,43.3 397.0,42.5 398.2,44.5 399.0,45.7 400.0,43.8 401.2,42.0 402.2,45.0 403.0,41.4 404.2,45.6 405.4,42.0 406.0,44.1 406.6,45.0 407.8,43.0 409.0,44.4 410.2,42.6 411.4,43.5 412.0,44.9 412.6,44.4 413.8,45.6 415.0,46.7 416.1,47.9 417.3,49.1 418.5,47.9 419.7,46.7 420.9,45.0 421.5,46.7 422.1,47.3 423.0,52.1 423.7,47.9 424.5,50.3 425.4,47.3 426.3,49.1 427.5,46.7 428.5,45.0 429.3,49.1 430.1,45.0 431.1,47.9 432.3,43.8 433.5,44.4 434.7,45.0 435.9,45.6 436.5,46.6 437.1,46.1 438.3,47.3 439.5,47.9 440.7,49.7 441.3,52.7 442.0,49.0 443.1,47.9 444.3,49.1 445.5,47.9 446.7,47.3 447.8,49.1 449.0,50.9 450.0,49.1 450.8,50.9 452.0,49.1 453.2,55.1 454.1,50.3 455.0,49.7 456.2,50.3 457.4,49.1 458.0,49.8 458.6,49.7 459.8,50.3 461.0,52.7 462.0,51.0 462.8,52.1 464.0,51.5 465.2,52.1 466.2,51.7 467.4,52.9 468.0,53.0 468.6,52.3 469.8,51.7 470.7,54.1 471.6,58.9 472.2,55.3 473.1,63.7 473.7,57.0 474.3,61.3 475.2,54.1 476.0,52.3 476.7,50.6 477.6,54.1 478.4,58.9 479.1,55.3 480.0,53.5 480.9,55.0 481.7,54.1 482.3,58.0 482.9,68.5 483.5,56.5 484.4,54.1 485.3,55.3 486.5,56.5 487.5,60.7 488.3,55.3 489.5,54.1 490.7,55.9 491.9,54.7 492.5,56.1 493.1,55.9 494.3,57.1 495.5,54.7 496.7,57.1 497.5,59.5 498.5,55.9 499.4,63.7 500.3,57.1 501.5,55.9 502.7,56.5 503.9,57.1 504.5,58.4 505.1,58.3 505.9,60.7 506.9,58.3 507.5,59.4 508.1,58.9 509.3,59.5 510.5,59.5 511.7,60.1 512.8,60.7 513.4,63.7 514.0,79.3 514.6,64.9 515.2,60.1 515.8,63.1 516.4,64.9 517.0,62.0 517.6,69.7 518.6,62.5 519.4,60.7 520.0,61.9 520.6,61.9 521.8,60.1 522.9,61.4 523.6,63.1 524.3,63.6 525.4,62.0 526.5,65.7 527.2,75.8 527.9,66.5 528.6,66.2 529.3,65.0 530.0,66.2 530.8,66.5 531.5,67.5 532.2,67.9 532.9,64.3 533.6,64.0 534.4,62.9 535.1,63.2 535.8,62.2 536.4,64.7 537.0,65.7 538.0,78.7 538.7,68.6 539.4,67.6 540.1,65.0 541.3,68.6 542.0,75.1 542.7,69.3 543.7,66.5 544.4,67.9 545.1,67.9 546.1,68.6 547.3,75.8 548.0,70.1 548.8,69.9 549.5,67.9 550.2,70.5 550.9,71.5 551.6,75.8 552.3,72.0 553.3,70.8 554.2,83.0 555.0,72.0 555.9,70.8 557.0,71.5 558.1,69.3 559.1,70.8 560.2,69.3 561.4,74.4 562.0,90.9 562.7,75.8 563.4,80.1 564.3,74.4 565.3,75.8 566.3,73.6 567.4,74.4 568.0,74.3 568.6,73.6 569.6,78.7 570.4,76.0 571.4,88.7 572.4,81.6 573.4,80.1 574.0,81.4 574.6,80.8 575.7,83.0 576.8,87.3 577.5,90.9 578.2,98.8 578.9,88.0 579.6,93.0 580.3,86.6 580.9,89.4 581.5,90.9 582.5,88.0 583.5,92.3 584.1,91.1 584.7,88.7 585.8,90.9 586.8,87.3 587.8,90.2 588.4,88.4 589.0,85.9 590.1,89.5 591.1,85.1 592.1,88.7 593.3,83.7 594.4,88.0 595.4,83.0 596.4,87.3 597.0,85.2 597.6,82.3 598.4,86.6" fill="none" stroke="#111" stroke-width="1.15" stroke-linejoin="round"/>
<polyline points="333.7,73.0 334.1,72.3 334.4,78.8 335.0,74.5 335.5,76.6 336.2,73.0 337.0,75.2 337.5,72.3 338.0,77.3 338.6,80.2 339.1,78.1 339.8,81.3 340.5,79.5 341.3,82.4 341.6,89.5 342.1,81.6 342.7,80.2 343.4,81.6 344.1,76.6 344.6,79.5 345.2,75.9 345.7,80.9 346.3,83.8 346.8,78.8 347.4,76.6 348.1,78.8 348.6,80.9 349.2,77.3 349.9,76.6 350.6,79.5 351.1,81.3 351.7,78.8 352.2,77.7 353.0,78.8 353.7,80.6 354.2,82.4 354.9,80.9 355.6,83.4 356.3,81.6 357.0,85.2 357.6,82.4 358.1,85.9 358.7,83.8 359.2,86.7 359.9,85.2 360.5,89.5 361.0,86.7 361.6,88.8 362.1,85.9 362.6,91.0 363.2,87.4 363.7,85.9 364.2,89.5 364.7,85.2 365.3,88.1 365.9,86.7 366.4,90.3 366.9,87.4 367.5,88.8 368.0,91.0 368.5,86.7 369.0,87.7 369.6,85.9 370.2,89.5 370.7,88.1 371.2,89.5 371.7,90.0 372.4,89.3 373.0,92.2 373.5,97.2 374.0,92.6 374.6,92.9 375.2,90.0 375.7,89.3 376.4,89.0 377.1,90.8 377.8,92.6 378.5,91.5 379.3,89.7 380.0,89.3 380.7,92.9 381.4,98.7 381.9,92.9 382.5,90.8 383.1,91.8 383.6,94.4 384.3,92.2 385.0,91.1 385.7,90.8 386.4,90.4 387.2,90.0 387.9,90.8 388.6,93.6 389.3,95.1 389.8,92.9 390.5,91.5 391.2,92.9 392.0,93.3 392.7,94.4 393.4,93.6 394.1,96.5 394.7,97.6 395.3,95.1 396.0,94.0 396.7,94.7 397.4,95.1 398.1,97.2 398.6,100.8 399.1,97.2 399.7,96.5 400.4,95.8 401.2,95.4 401.9,96.5 402.6,96.2 403.3,97.2 404.0,97.2 404.7,96.9 405.5,97.9 406.2,97.6 406.9,98.3 407.6,99.0 408.3,99.4 409.0,98.7 409.8,98.3 411.0,97.9 411.9,97.4 412.6,98.5 413.3,99.5 414.4,99.9 415.5,100.3 416.2,101.3 416.9,100.6 418.0,100.3 419.1,99.2 419.8,99.5 420.5,100.3 421.2,101.3 421.9,102.8 422.6,104.9 423.4,105.6 424.1,106.0 424.8,107.8 425.4,110.7 425.9,108.5 426.6,107.1 427.3,106.4 427.8,110.0 428.2,108.5 428.7,105.6 429.5,103.5 430.2,102.8 430.9,103.8 431.6,104.2 432.3,102.4 433.0,101.7 433.8,102.1 434.5,102.8 435.2,103.5 435.9,103.8 436.6,104.6 437.4,104.9 438.1,105.6 438.8,106.0 439.5,106.7 440.2,107.4 440.9,108.5 441.4,112.1 441.9,109.2 442.4,107.8 443.1,107.4 443.8,106.4 444.5,107.1 445.3,107.8 446.0,107.4 446.7,107.1 447.4,107.8 448.1,108.2 449.0,108.9 449.4,112.6 449.9,109.0 450.7,108.6 451.4,109.3 452.1,110.8 452.6,114.4 453.0,119.4 453.5,112.9 454.0,110.8 455.0,110.4 456.1,110.8 457.1,111.5 458.2,111.8 459.3,112.2 460.4,112.6 461.4,112.6 462.5,113.3 463.6,113.6 464.5,114.4 465.0,116.2 465.5,114.4 466.5,114.0 467.5,114.7 468.6,114.4 469.7,115.1 470.0,115.0 470.8,116.0 471.5,120.0 472.2,116.0 473.0,117.0 473.8,118.0 474.2,126.0 474.8,119.0 475.5,117.0 476.5,115.5 477.5,117.0 478.5,120.0 479.0,125.0 479.5,120.0 480.5,117.5 481.5,117.0 482.2,119.0 482.8,123.5 483.5,119.0 484.5,118.0 485.5,118.5 486.5,119.0 487.5,121.0 488.2,119.0 489.0,118.0 490.0,119.0 491.0,120.0 492.0,121.0 492.8,123.5 493.5,120.0 494.5,121.5 495.5,123.5 496.2,121.5 497.0,122.0 498.0,123.0 499.0,123.5 500.0,122.5 501.0,123.0 502.0,122.5 503.0,123.0 504.0,124.0 505.0,126.0 505.8,128.0 506.5,125.5 507.5,124.5 508.5,125.0 509.5,124.5 510.5,125.0 511.5,125.5 512.5,126.5 513.2,129.0 513.8,143.0 514.5,129.0 515.5,126.5 516.2,127.0 517.0,137.0 517.8,129.0 518.8,127.5 519.8,126.5 520.5,129.0 521.2,132.0 522.0,127.5 523.0,126.5 524.0,127.5 525.0,127.5 526.0,129.4 526.9,143.8 527.8,131.3 528.8,130.0 529.4,131.1 530.0,130.6 531.0,133.8 531.9,143.8 532.8,132.5 533.8,130.6 534.4,131.8 535.0,131.3 535.6,133.2 536.3,132.5 537.3,135.0 537.9,145.0 538.5,134.0 539.4,132.5 540.0,134.1 540.6,133.1 541.5,137.5 541.9,146.9 542.5,135.6 543.1,135.1 543.8,133.1 544.4,135.0 545.0,134.4 545.6,136.7 546.3,136.3 547.3,140.0 547.8,149.4 548.5,138.8 549.4,135.6 550.4,136.3 551.3,140.0 551.9,153.8 552.5,141.9 553.5,140.0 554.4,145.0 554.8,158.8 555.4,143.1 556.3,138.8 557.3,137.5 558.1,139.4 559.0,138.1 560.0,140.6 560.9,145.0 561.5,163.1 562.3,145.0 563.1,141.3 564.0,142.5 565.0,140.6 565.6,141.5 566.3,140.0 566.9,141.1 567.5,141.3 568.1,143.0 568.8,141.9 569.8,143.8 570.6,145.0 571.5,146.9 572.5,152.5 573.2,147.0 574.0,147.5 575.0,148.8 576.0,152.5 576.9,151.3 577.5,161.3 578.2,151.0 579.0,150.0 579.8,157.5 580.6,150.6 581.5,148.1 582.5,149.4 583.5,148.8 584.4,150.6 585.3,151.3 586.0,157.5 586.9,150.6 587.5,151.0 588.1,150.0 588.8,150.9 589.4,149.4 590.0,150.6 590.6,150.6 591.2,151.0 591.9,149.4 592.5,150.5 593.1,150.0 593.8,150.8 594.4,149.4 595.0,150.9 595.6,150.0 596.2,150.9 596.9,149.4 597.6,150.9 598.3,150.0" fill="none" stroke="#111" stroke-width="1.15" stroke-linejoin="round"/>
<polyline points="333.7,141.6 334.7,140.1 335.9,143.0 337.0,140.8 338.0,142.3 339.0,143.7 340.2,143.0 341.3,145.9 342.3,151.6 343.1,144.4 344.2,143.0 345.2,145.1 346.2,152.3 347.1,145.1 348.1,144.4 349.1,146.6 350.0,145.1 351.0,155.2 351.7,146.6 352.8,145.1 353.8,145.9 354.8,143.7 355.7,142.3 356.3,148.7 357.1,164.5 357.9,151.6 358.6,154.5 359.6,150.9 360.6,149.5 361.7,151.6 362.5,148.0 363.2,163.8 363.9,150.2 364.9,148.0 365.8,155.9 366.3,148.7 367.2,153.0 367.8,162.4 368.6,148.7 369.6,153.0 370.6,149.5 371.5,150.9 372.1,161.7 372.9,150.9 373.9,154.5 375.0,152.3 375.8,150.2 376.8,149.5 377.8,152.3 378.7,155.9 379.3,151.6 380.1,157.4 380.7,150.9 381.6,168.9 382.1,153.0 383.0,150.9 384.0,150.2 384.7,151.3 385.4,150.9 386.1,151.3 386.9,150.2 387.6,151.5 388.3,150.9 389.3,153.0 390.5,150.2 391.2,151.5 391.9,150.9 392.6,152.2 393.3,152.3 394.5,150.9 395.5,152.3 396.2,152.3 396.9,150.9 397.6,152.4 398.4,152.3 399.4,154.5 400.5,157.4 401.7,160.2 402.7,163.1 403.7,162.4 404.8,160.2 406.0,158.8 407.0,158.1 407.7,159.3 408.4,158.8 409.1,159.3 409.9,157.6 410.6,158.8 411.3,158.1 412.5,159.8 413.6,159.5 414.3,160.7 415.0,160.2 415.8,160.4 416.5,159.5 417.2,159.7 417.9,158.8 418.6,158.7 419.4,158.0 420.1,158.4 420.8,157.3 422.0,159.5 423.0,163.8 423.7,159.5 424.8,158.0 425.8,162.4 426.8,166.7 427.7,163.1 428.7,160.9 429.7,159.5 430.9,159.5 431.6,159.2 432.3,158.0 433.0,158.2 433.7,157.3 434.4,158.5 435.2,158.8 435.9,159.5 436.6,159.5 437.3,161.1 438.0,160.9 438.8,161.8 439.5,161.6 440.6,163.8 441.2,168.1 442.1,163.1 443.1,161.6 443.8,162.8 444.5,162.4 445.2,163.8 446.0,163.1 446.7,164.0 447.4,163.8 448.1,164.9 448.8,164.5 449.6,164.6 450.3,163.8 451.0,164.9 451.7,165.2 452.7,167.4 453.1,172.4 453.9,166.0 454.6,166.1 455.3,164.5 456.0,164.5 456.7,163.8 457.4,165.2 458.2,164.5 458.9,165.8 459.6,166.0 460.3,167.4 461.0,166.7 461.8,167.9 462.5,167.0 463.2,167.2 463.9,166.7 464.6,167.3 465.3,166.7 466.1,167.4 466.8,166.7 467.5,167.2 468.2,166.7 468.9,167.6 469.7,167.5 470.0,167.0 471.0,168.0 472.0,169.5 473.0,171.0 473.8,177.0 474.2,192.0 474.8,175.0 475.5,169.0 476.5,166.5 477.5,167.0 478.5,169.5 479.5,171.0 480.5,169.5 481.5,168.5 482.2,172.0 482.7,179.0 483.2,171.5 484.0,169.0 485.0,168.0 486.0,169.0 487.0,170.0 487.8,173.0 488.5,170.0 489.5,169.0 490.5,168.5 491.5,169.0 492.5,169.5 493.5,171.0 494.2,172.0 494.8,175.5 495.5,172.0 496.5,170.5 497.5,171.5 498.5,172.5 499.2,177.0 499.8,172.5 500.5,170.5 501.5,171.5 502.5,172.0 503.5,171.0 504.5,172.5 505.5,174.0 506.5,171.5 507.5,171.0 508.5,172.5 509.5,173.5 510.5,174.0 511.5,174.0 512.5,174.5 513.2,176.0 513.8,189.0 514.5,177.0 515.2,174.5 516.0,174.0 516.8,178.0 517.3,182.0 518.0,176.0 519.0,174.5 520.0,174.0 521.0,174.5 522.0,174.5 523.0,174.0 524.0,174.5 525.0,176.9 526.0,178.8 526.9,188.8 527.8,178.8 528.8,176.9 529.4,177.2 530.0,176.3 531.0,180.0 531.9,176.9 532.5,177.3 533.1,176.3 533.8,177.1 534.4,176.9 535.0,178.0 535.6,177.5 536.2,180.1 536.9,181.3 537.5,188.1 538.1,181.3 539.0,178.1 540.0,178.8 541.0,183.8 541.9,179.4 542.5,179.9 543.1,178.8 543.8,180.4 544.4,181.3 545.0,181.7 545.6,180.0 546.2,182.8 546.9,184.4 547.8,181.3 548.8,180.6 549.4,182.2 550.0,182.5 551.0,183.8 551.6,195.0 552.3,185.0 553.1,186.9 553.8,188.8 554.6,201.9 555.4,187.5 556.3,183.8 557.3,183.1 558.1,181.9 559.0,182.5 560.0,181.3 560.9,185.0 561.5,197.5 562.3,186.9 563.1,184.4 563.8,184.6 564.4,183.8 565.0,184.0 565.6,183.1 566.2,184.2 566.9,183.8 567.5,183.8 568.1,182.5 568.8,184.2 569.4,183.8 570.0,184.1 570.6,183.1 571.2,183.1 571.9,181.9 572.8,183.8 573.8,185.6 574.8,186.9 575.6,190.0 576.5,188.8 577.3,193.8 578.1,189.4 579.0,191.9 580.0,188.1 580.6,189.4 581.3,188.8 582.3,188.1 583.1,188.8 584.0,188.1 585.0,189.4 585.9,195.0 586.9,190.0 587.5,190.7 588.1,189.4 588.8,190.2 589.4,188.8 590.0,190.1 590.6,189.4 591.5,189.9 592.5,188.8 593.5,190.1 594.4,189.4 595.3,189.5 596.3,188.8 597.3,189.4 598.3,189.1" fill="none" stroke="#111" stroke-width="1.15" stroke-linejoin="round"/>
<polyline points="333.7,196.6 334.4,197.0 335.2,195.8 335.9,196.7 336.6,196.6 337.3,196.7 338.0,194.4 338.8,195.9 339.5,195.1 340.2,193.7 341.0,197.0 341.6,204.5 342.3,195.1 343.3,194.4 344.2,197.3 345.2,193.7 346.2,203.0 347.1,195.8 348.1,196.6 349.0,195.0 350.0,197.3 350.5,208.0 351.4,198.0 352.4,195.1 353.4,193.7 354.0,194.3 354.6,193.0 355.7,195.1 356.4,200.1 357.1,222.4 357.7,203.7 358.6,202.3 359.6,198.0 360.6,200.1 361.7,203.0 362.5,210.9 363.2,216.7 363.9,202.3 364.6,198.7 365.3,203.7 366.0,210.2 366.8,196.6 367.8,200.1 368.6,213.8 369.5,198.0 370.4,199.4 371.1,203.7 371.8,213.1 372.6,203.0 373.5,201.6 374.4,210.9 375.2,200.9 376.1,198.0 377.3,197.3 378.3,199.4 379.0,207.3 379.7,201.6 380.4,198.0 381.1,210.9 381.6,225.3 382.1,203.7 383.0,197.3 384.0,196.6 384.7,198.0 385.4,197.3 386.1,198.0 386.9,198.0 387.6,199.4 388.3,198.7 389.3,201.6 390.2,198.7 390.9,199.0 391.6,198.3 392.5,199.2 393.3,198.7 394.1,199.1 394.8,198.0 395.5,198.9 396.2,198.7 396.9,199.0 397.7,197.7 398.8,198.7 399.5,203.7 400.2,210.9 401.2,222.4 402.3,228.2 403.0,230.3 403.7,226.7 404.6,222.4 405.2,220.0 405.7,218.0 406.7,212.3 407.6,210.1 408.6,206.6 409.3,212.3 410.0,208.0 411.0,205.8 411.9,215.2 412.9,208.0 413.9,209.4 414.5,209.1 415.1,207.3 416.2,210.1 417.2,206.6 418.2,208.7 419.1,204.4 420.1,205.8 421.1,204.4 422.0,210.1 422.7,203.7 423.7,207.3 424.4,202.2 425.1,207.3 425.8,213.0 426.6,217.3 427.3,211.6 428.3,208.0 429.4,203.7 430.0,204.8 430.6,205.1 431.6,201.5 432.6,203.5 433.7,198.6 434.7,201.5 435.6,203.7 436.6,202.2 437.8,204.4 438.8,205.1 439.5,211.6 440.2,206.6 441.2,210.1 442.1,206.6 443.1,208.7 444.1,205.8 445.2,208.0 446.4,206.6 447.4,211.6 448.1,206.6 449.3,208.0 450.3,206.6 451.3,208.7 452.4,205.8 453.0,210.4 453.6,213.7 454.6,208.7 455.6,206.6 456.7,204.4 457.9,208.7 458.9,210.9 459.9,208.0 460.7,215.2 461.8,208.7 462.8,212.3 463.9,209.4 464.5,211.3 465.1,211.6 466.1,208.7 467.1,210.9 468.2,210.1 469.4,209.4 470.4,213.0 471.4,208.7 472.2,211.6 473.0,219.5 473.5,232.0 474.0,244.5 474.6,232.0 475.2,216.0 475.7,213.7 476.6,206.6 477.6,205.8 478.6,208.7 479.7,207.3 480.0,211.0 480.8,210.0 481.5,209.5 482.1,213.0 482.5,223.0 483.0,212.0 483.8,208.0 484.5,207.0 485.2,209.0 485.8,206.5 486.5,208.0 487.2,215.0 487.8,207.0 488.5,206.0 489.2,207.0 490.0,205.0 490.8,206.0 491.5,204.0 492.2,202.5 492.8,204.5 493.5,206.0 494.2,211.0 494.8,214.0 495.5,210.0 496.2,209.0 497.0,208.5 497.8,210.0 498.5,212.0 499.2,217.5 499.8,211.0 500.5,209.0 501.2,209.5 502.0,213.5 502.8,210.0 503.5,208.5 504.5,208.0 505.5,208.5 506.5,209.5 507.5,209.5 508.5,210.5 509.5,212.5 510.5,211.5 511.5,211.0 512.5,211.5 513.5,215.0 514.2,220.0 514.8,213.0 515.5,209.5 516.2,211.5 517.0,210.0 517.8,216.5 518.5,212.0 519.2,210.5 520.0,209.5 521.0,210.5 522.0,210.0 523.0,209.5 524.0,210.5 524.8,211.5 525.5,214.0 526.2,216.0 526.8,222.0 527.5,216.0 528.5,212.5 529.5,209.0 530.5,206.5 531.5,206.5 532.2,208.5 533.0,210.0 534.0,211.0 535.0,210.5 535.8,212.5 536.5,211.0 537.2,215.0 537.8,220.0 538.5,216.5 539.2,213.5 540.3,211.5 541.1,215.7 541.9,211.5 542.6,211.0 543.4,213.1 544.2,212.0 545.0,214.1 545.4,219.3 546.1,214.1 547.1,214.6 548.1,213.6 549.2,215.1 550.2,214.1 551.2,214.6 552.3,215.7 553.0,214.6 554.0,215.7 555.0,217.7 555.8,220.3 556.6,215.7 557.6,215.1 558.7,214.1 559.7,213.1 560.7,214.1 561.8,215.1 562.8,214.6 563.8,215.7 564.9,214.6 565.9,214.1 566.9,216.2 567.8,218.2 568.5,216.7 569.5,215.7 570.5,214.1 571.6,213.6 572.3,210.5 573.1,213.1 574.2,214.1 575.2,214.6 576.2,215.7 577.3,219.8 578.1,216.7 579.1,217.2 580.1,216.7 581.2,216.2 582.2,217.2 583.2,216.7 584.3,217.7 585.3,218.2 586.0,220.3 586.8,218.2 587.6,219.3 588.6,220.3 589.7,220.8 590.7,221.3 591.7,221.9 592.8,222.4 593.8,221.3 594.8,222.9 595.9,221.3 596.9,220.3 597.6,221.1 598.3,219.8" fill="none" stroke="#111" stroke-width="1.15" stroke-linejoin="round"/>
<polyline points="334.0,286.4 334.4,288.1 334.9,284.4 335.4,289.9 335.9,290.2 336.4,289.3 336.8,283.5 337.3,288.1 337.8,288.3 338.2,287.1 338.7,279.7 339.2,282.4 339.7,282.5 340.1,287.4 340.6,286.4 341.0,292.1 341.6,289.2 342.2,283.5 342.6,284.5 343.1,278.4 343.5,278.7 344.0,282.8 344.5,280.6 345.0,282.9 345.5,278.8 346.0,282.5 346.5,286.8 346.9,282.7 347.4,285.4 347.9,286.1 348.3,283.5 348.8,288.0 349.3,290.2 349.8,294.8 350.2,295.9 350.7,306.2 351.2,313.2 351.6,301.1 352.1,284.4 352.6,287.4 353.1,283.5 353.5,284.3 354.0,278.8 354.4,280.6 354.8,283.5 355.2,280.6 355.6,283.5 356.0,293.3 356.3,299.8 356.7,319.0 357.1,332.0 357.5,320.3 357.9,301.7 358.4,296.6 358.8,288.3 359.3,289.2 359.7,281.6 360.2,282.5 360.8,283.9 361.3,279.7 361.8,284.1 362.3,284.4 362.8,299.1 363.2,311.2 363.6,302.6 364.0,288.3 364.6,295.3 365.2,297.8 365.6,293.2 366.1,281.5 366.5,277.8 366.9,277.8 367.4,274.9 367.9,291.8 368.4,305.5 368.9,291.0 369.4,273.0 369.9,274.1 370.3,268.2 370.8,275.7 371.3,278.7 371.8,294.4 372.2,305.5 372.7,297.5 373.2,283.5 373.6,283.9 374.1,280.6 374.6,294.3 375.1,305.5 375.6,295.8 376.1,282.5 376.6,281.8 377.0,278.7 377.5,279.7 378.0,274.9 378.4,284.6 378.9,288.3 379.4,283.6 379.9,274.9 380.4,293.2 380.8,309.3 381.3,296.2 381.8,280.6 382.3,276.7 382.8,270.1 383.2,272.5 383.7,272.0 384.2,272.9 384.7,269.1 385.1,271.2 385.6,271.1 386.1,275.1 386.6,274.9 387.1,275.0 387.5,271.1 388.0,275.4 388.5,276.8 389.0,276.5 389.5,273.0 389.9,279.5 390.4,280.6 390.9,280.0 391.4,273.9 391.9,277.4 392.3,277.8 392.8,277.7 393.3,273.0 393.8,277.1 394.2,274.9 394.7,275.4 395.2,271.1 395.7,275.1 396.2,273.0 396.6,273.4 397.1,267.2 397.6,272.3 398.1,273.0 398.6,272.0 399.0,268.2 399.3,279.3 399.6,288.3 400.0,302.5 400.3,311.7 400.9,329.5 401.5,340.4 401.8,351.5 402.1,357.6 402.5,365.2 402.9,369.1 403.4,371.8 403.8,372.0 404.4,360.5 404.8,356.2 405.2,346.1 405.5,344.5 405.8,340.4 406.2,338.7 406.7,331.8 407.2,317.4 407.6,317.4 408.1,311.7 408.5,318.5 408.9,320.3 409.3,316.7 409.7,305.6 410.1,300.2 410.6,298.7 411.0,294.5 411.4,309.4 411.8,317.4 412.4,329.7 413.0,337.5 413.6,332.1 414.1,323.2 414.7,317.4 415.3,305.9 415.9,314.8 416.4,317.4 416.9,309.2 417.3,297.3 417.8,300.8 418.2,299.6 418.7,303.1 419.2,309.6 419.6,307.5 420.1,314.6 420.6,309.1 421.0,300.2 421.6,299.7 422.2,294.5 422.8,293.0 423.3,288.7 423.9,300.4 424.5,308.8 425.1,325.2 425.6,337.5 426.1,326.9 426.7,311.7 427.3,302.9 427.9,291.6 428.4,293.4 429.0,288.7 429.6,290.5 430.2,285.8 430.7,295.4 431.1,295.8 431.6,305.9 432.1,300.7 432.6,288.9 433.1,283.0 433.5,275.2 433.9,264.3 434.3,270.8 434.7,271.1 435.1,277.2 435.5,285.4 435.9,288.7 436.4,283.6 436.8,274.4 437.4,286.6 437.9,294.5 438.4,287.6 438.8,277.2 439.4,299.9 440.0,317.4 440.6,306.5 441.1,291.6 441.7,288.4 442.3,280.1 442.9,292.1 443.4,300.2 443.8,298.4 444.2,289.1 444.6,285.8 445.1,283.5 445.7,274.4 446.2,286.3 446.8,294.5 447.4,291.7 448.0,283.0 448.6,293.4 449.1,297.3 449.7,292.8 450.3,285.8 450.9,284.3 451.4,280.1 451.8,286.1 452.2,284.9 452.6,291.6 453.1,304.6 453.7,314.6 454.3,304.7 454.9,288.7 455.3,291.6 455.8,288.7 456.2,292.0 456.8,286.1 457.4,275.2 457.8,285.4 458.2,291.2 458.6,301.6 459.2,294.7 459.8,284.8 460.4,304.3 461.0,320.7 461.6,307.4 462.2,289.6 462.8,304.2 463.4,313.5 463.8,307.7 464.2,293.9 464.6,287.2 465.2,293.5 465.8,296.8 466.4,293.1 467.0,284.8 467.6,290.0 468.2,292.0 468.8,291.2 469.4,286.0 469.8,293.6 470.2,294.7 470.6,301.6 471.1,287.9 471.7,268.1 472.3,280.3 472.9,287.2 473.3,301.8 473.7,313.5 474.1,306.3 474.6,296.8 475.0,291.9 475.3,284.8 475.9,282.1 476.5,272.8 477.1,278.1 477.7,280.0 478.3,270.4 478.9,258.5 479.3,269.3 479.7,273.8 480.1,284.8 480.7,293.6 481.3,296.8 481.9,289.0 482.5,277.6 483.1,277.3 483.7,270.5 484.3,279.8 484.9,282.4 485.3,279.7 485.7,270.7 486.1,268.1 486.7,272.7 487.3,275.2 487.6,290.9 488.0,304.0 488.5,294.8 489.0,282.0 489.6,276.8 490.2,265.7 490.8,262.6 491.4,256.1 491.8,251.8 492.1,242.9 492.5,250.6 492.8,256.1 493.3,267.3 493.8,272.8 494.1,283.9 494.5,289.6 495.1,287.0 495.7,280.0 496.3,276.2 496.9,268.1 497.3,269.3 497.7,264.4 498.1,265.7 498.7,272.6 499.3,272.8 499.9,284.2 500.5,292.0 501.1,290.1 501.7,284.8 502.2,283.6 502.8,277.6 503.4,275.5 504.0,268.1 504.6,271.9 505.2,272.8 505.8,272.9 506.4,268.1 506.8,277.8 507.2,277.7 507.6,287.2 508.2,282.2 508.8,272.8 509.4,279.5 510.0,282.4 510.6,281.4 511.2,275.2 511.8,283.7 512.4,289.6 512.8,287.4 513.2,276.9 513.6,272.8 514.2,280.3 514.8,282.4 515.2,283.4 515.6,276.8 516.0,276.4 516.4,281.9 516.8,280.6 517.2,287.2 517.8,285.0 518.4,277.6 518.8,276.4 519.2,269.0 519.6,268.1 520.2,268.8 520.8,263.3 521.2,265.5 521.6,259.0 522.0,260.9 522.4,265.6 522.8,262.6 523.2,268.1 523.8,265.8 524.4,260.9 524.8,273.1 525.2,278.0 525.6,289.6 526.2,289.5 526.8,282.4 527.2,279.9 527.6,270.7 528.0,268.1 528.4,268.1 528.8,261.6 529.2,260.9 529.6,261.3 530.0,257.6 530.4,262.5 530.9,258.6 531.3,263.5 531.7,267.5 532.1,266.2 532.5,270.2 533.0,275.9 533.4,275.2 533.8,271.2 534.2,263.5 534.6,268.5 535.0,268.5 535.5,272.9 535.9,273.6 536.3,272.6 536.7,265.2 537.1,272.7 537.5,276.9 538.0,274.5 538.4,266.9 538.8,273.4 539.2,273.6 539.7,268.9 540.1,260.2 540.5,262.1 540.9,259.3 541.3,265.1 541.7,268.5 542.2,266.3 542.6,260.2 543.0,261.8 543.4,258.5 543.8,264.6 544.2,266.9 544.7,266.8 545.1,261.0 545.5,263.8 545.9,263.5 546.3,269.3 546.8,271.9 547.2,268.6 547.6,261.8 548.0,272.3 548.4,278.6 548.8,272.8 549.3,263.5 549.7,264.4 550.1,260.2 550.5,262.9 550.9,261.8 551.3,259.6 551.8,255.1 552.2,260.6 552.6,259.3 553.0,259.2 553.5,255.1 553.9,261.5 554.3,263.5 554.7,262.7 555.1,256.8 555.5,261.1 556.0,261.8 556.4,265.9 556.8,266.9 557.2,263.7 557.6,257.6 558.0,257.8 558.5,255.1 558.9,254.1 559.3,250.1 559.8,250.2 560.2,247.6 560.6,252.7 561.0,253.5 561.4,257.5 561.8,258.5 562.2,258.5 562.7,251.8 563.1,254.7 563.5,255.1 563.9,260.6 564.3,261.0 564.8,258.7 565.2,251.8 565.6,250.9 566.0,246.8 566.5,251.4 566.9,251.8 567.3,252.9 567.7,247.6 568.1,258.0 568.5,261.8 569.0,257.5 569.4,250.1 569.8,255.8 570.2,255.1 570.6,253.7 571.0,248.4 571.5,256.2 571.9,260.2 572.3,256.4 572.7,250.1 573.2,258.4 573.6,263.5 574.0,257.2 574.4,245.9 574.8,249.1 575.2,249.3 575.7,254.1 576.1,255.1 576.5,253.1 576.9,246.8 577.3,260.8 577.7,269.4 578.2,263.0 578.6,251.8 579.0,256.5 579.4,258.5 579.8,259.0 580.3,253.5 580.7,259.8 581.1,262.7 581.5,260.4 581.9,255.1 582.3,260.0 582.8,259.3 583.2,257.9 583.6,253.5 584.0,262.6 584.4,265.2 584.8,264.3 585.3,256.8 585.7,266.9 586.1,271.9 586.5,267.7 587.0,259.3 587.4,263.7 587.8,263.5 588.2,271.4 588.6,272.7 589.0,270.7 589.5,261.8 589.9,268.9 590.3,270.2 590.7,276.3 591.1,276.9 591.5,275.3 592.0,268.5 592.4,275.4 592.8,279.4 593.2,277.2 593.6,271.9 594.0,272.3 594.5,268.0 594.9,273.7 595.3,274.0 595.8,272.2 596.2,266.0 596.6,271.9 597.0,271.0 597.4,270.7 597.8,264.0 598.1,268.2 598.4,268.0" fill="none" stroke="#111" stroke-width="1.0" stroke-linejoin="round"/>
<text x="46.40" y="16.70" font-size="8.3">Pa</text>
<text x="60.20" y="16.70" font-size="8.3">ε</text>
<line x1="45.00" y1="21.50" x2="45.00" y2="26.60" stroke="#222" stroke-width="0.9"/>
<text x="119.60" y="42.60" font-size="8.3">Pa</text>
<text x="133.40" y="42.60" font-size="8.3">δ</text>
<line x1="128.70" y1="48.00" x2="128.70" y2="52.60" stroke="#222" stroke-width="0.9"/>
<text x="267.70" y="86.30" font-size="8.3">Pa</text>
<text x="281.00" y="86.30" font-size="8.3">γ</text>
<line x1="276.00" y1="91.20" x2="276.00" y2="96.50" stroke="#222" stroke-width="0.9"/>
<text x="279.00" y="65.40" font-size="8.3">F3 V</text>
<text x="279.20" y="157.10" font-size="8.3">F5 V</text>
<text x="279.20" y="206.40" font-size="8.3">F9 V</text>
<text x="277.00" y="246.50" font-size="8.3">G2 V</text>
<text x="277.00" y="344.30" font-size="8.3">G8 V</text>
<text x="45.60" y="205.00" font-size="8.3">Cr</text>
<line x1="50.30" y1="210.20" x2="50.30" y2="214.50" stroke="#222" stroke-width="0.9"/>
<text x="57.70" y="212.00" font-size="8.3">Ti</text>
<line x1="45.30" y1="216.70" x2="76.10" y2="216.70" stroke="#222" stroke-width="0.9"/>
<line x1="45.30" y1="216.70" x2="45.30" y2="221.70" stroke="#222" stroke-width="0.9"/>
<line x1="54.50" y1="216.70" x2="54.50" y2="221.70" stroke="#222" stroke-width="0.9"/>
<line x1="60.70" y1="216.70" x2="60.70" y2="221.70" stroke="#222" stroke-width="0.9"/>
<line x1="62.00" y1="216.70" x2="62.00" y2="221.70" stroke="#222" stroke-width="0.9"/>
<line x1="67.10" y1="216.70" x2="67.10" y2="221.70" stroke="#222" stroke-width="0.9"/>
<line x1="72.00" y1="216.70" x2="72.00" y2="221.70" stroke="#222" stroke-width="0.9"/>
<line x1="76.10" y1="216.70" x2="76.10" y2="221.70" stroke="#222" stroke-width="0.9"/>
<text x="80.60" y="221.50" font-size="8.3">Fe</text>
<line x1="60.50" y1="223.80" x2="88.00" y2="223.80" stroke="#222" stroke-width="0.9"/>
<line x1="60.50" y1="223.80" x2="60.50" y2="228.70" stroke="#222" stroke-width="0.9"/>
<line x1="63.40" y1="223.80" x2="63.40" y2="228.70" stroke="#222" stroke-width="0.9"/>
<line x1="77.60" y1="223.80" x2="77.60" y2="228.70" stroke="#222" stroke-width="0.9"/>
<line x1="79.50" y1="223.80" x2="79.50" y2="228.70" stroke="#222" stroke-width="0.9"/>
<line x1="81.00" y1="223.80" x2="81.00" y2="228.70" stroke="#222" stroke-width="0.9"/>
<line x1="82.10" y1="223.80" x2="82.10" y2="228.70" stroke="#222" stroke-width="0.9"/>
<line x1="88.00" y1="223.80" x2="88.00" y2="228.70" stroke="#222" stroke-width="0.9"/>
<text x="93.40" y="226.00" font-size="8.3">Fe</text>
<line x1="93.40" y1="230.90" x2="102.80" y2="230.90" stroke="#222" stroke-width="0.9"/>
<line x1="93.40" y1="230.90" x2="93.40" y2="235.80" stroke="#222" stroke-width="0.9"/>
<line x1="98.30" y1="230.90" x2="98.30" y2="235.80" stroke="#222" stroke-width="0.9"/>
<line x1="99.40" y1="230.90" x2="99.40" y2="235.80" stroke="#222" stroke-width="0.9"/>
<line x1="102.80" y1="230.90" x2="102.80" y2="235.80" stroke="#222" stroke-width="0.9"/>
<text x="119.90" y="238.20" font-size="8.3">Sr II</text>
<line x1="127.10" y1="243.40" x2="127.10" y2="248.00" stroke="#222" stroke-width="0.9"/>
<text x="138.60" y="238.20" font-size="8.3">C</text>
<line x1="141.30" y1="243.40" x2="141.30" y2="248.00" stroke="#222" stroke-width="0.9"/>
<text x="146.20" y="239.50" font-size="8.3">Fe</text>
<line x1="144.60" y1="244.70" x2="157.40" y2="244.70" stroke="#222" stroke-width="0.9"/>
<line x1="144.60" y1="244.70" x2="144.60" y2="249.30" stroke="#222" stroke-width="0.9"/>
<line x1="157.40" y1="244.70" x2="157.40" y2="249.30" stroke="#222" stroke-width="0.9"/>
<text x="179.90" y="227.50" font-size="8.3">Ni</text>
<line x1="183.70" y1="232.80" x2="183.70" y2="237.60" stroke="#222" stroke-width="0.9"/>
<text x="165.40" y="247.20" font-size="8.3">Si</text>
<line x1="168.60" y1="252.50" x2="168.60" y2="257.10" stroke="#222" stroke-width="0.9"/>
<text x="178.60" y="250.50" font-size="8.3">Si</text>
<line x1="182.60" y1="255.10" x2="182.60" y2="259.70" stroke="#222" stroke-width="0.9"/>
<text x="194.10" y="252.50" font-size="8.3">S</text>
<line x1="196.80" y1="257.10" x2="196.80" y2="261.70" stroke="#222" stroke-width="1.5"/>
<text x="249.60" y="246.80" font-size="8.3">Mg</text>
<line x1="255.30" y1="251.70" x2="255.30" y2="256.40" stroke="#222" stroke-width="0.9"/>
<text x="220.90" y="257.10" font-size="8.3">Si</text>
<line x1="218.00" y1="262.20" x2="230.50" y2="262.20" stroke="#222" stroke-width="0.9"/>
<line x1="218.00" y1="262.20" x2="218.00" y2="267.20" stroke="#222" stroke-width="0.9"/>
<line x1="221.30" y1="262.20" x2="221.30" y2="267.20" stroke="#222" stroke-width="0.9"/>
<line x1="225.10" y1="262.20" x2="225.10" y2="267.20" stroke="#222" stroke-width="0.9"/>
<line x1="230.50" y1="262.20" x2="230.50" y2="267.20" stroke="#222" stroke-width="0.9"/>
<text x="235.10" y="260.90" font-size="8.3">C</text>
<line x1="234.30" y1="265.50" x2="242.20" y2="265.50" stroke="#222" stroke-width="0.9"/>
<line x1="234.30" y1="265.50" x2="234.30" y2="270.50" stroke="#222" stroke-width="0.9"/>
<line x1="235.30" y1="265.50" x2="235.30" y2="270.50" stroke="#222" stroke-width="0.9"/>
<line x1="238.50" y1="265.50" x2="238.50" y2="270.50" stroke="#222" stroke-width="0.9"/>
<line x1="242.20" y1="265.50" x2="242.20" y2="270.50" stroke="#222" stroke-width="0.9"/>
<text x="246.60" y="265.90" font-size="8.3">Fe</text>
<line x1="245.30" y1="270.90" x2="257.10" y2="270.90" stroke="#222" stroke-width="0.9"/>
<line x1="245.30" y1="270.90" x2="245.30" y2="275.10" stroke="#222" stroke-width="0.9"/>
<line x1="247.80" y1="270.90" x2="247.80" y2="275.10" stroke="#222" stroke-width="0.9"/>
<line x1="250.40" y1="270.90" x2="250.40" y2="275.10" stroke="#222" stroke-width="0.9"/>
<line x1="252.90" y1="270.90" x2="252.90" y2="275.10" stroke="#222" stroke-width="0.9"/>
<line x1="257.10" y1="270.90" x2="257.10" y2="275.10" stroke="#222" stroke-width="0.9"/>
<text x="259.60" y="269.30" font-size="8.3">Si</text>
<line x1="258.30" y1="274.30" x2="267.50" y2="274.30" stroke="#222" stroke-width="0.9"/>
<line x1="258.30" y1="274.30" x2="258.30" y2="279.00" stroke="#222" stroke-width="0.9"/>
<line x1="260.80" y1="274.30" x2="260.80" y2="279.00" stroke="#222" stroke-width="0.9"/>
<line x1="262.90" y1="274.30" x2="262.90" y2="279.00" stroke="#222" stroke-width="0.9"/>
<line x1="265.00" y1="274.30" x2="265.00" y2="279.00" stroke="#222" stroke-width="0.9"/>
<line x1="267.50" y1="274.30" x2="267.50" y2="279.00" stroke="#222" stroke-width="0.9"/>
<text x="279.80" y="257.10" font-size="8.3">Ni</text>
<line x1="283.70" y1="262.90" x2="283.70" y2="267.30" stroke="#222" stroke-width="0.9"/>
<text x="290.40" y="257.10" font-size="8.3">Cr</text>
<line x1="289.40" y1="262.50" x2="289.40" y2="267.30" stroke="#222" stroke-width="0.9"/>
<text x="274.80" y="275.50" font-size="8.3">Mg</text>
<line x1="278.80" y1="279.30" x2="280.90" y2="279.30" stroke="#222" stroke-width="0.9"/>
<line x1="278.80" y1="279.30" x2="278.80" y2="284.40" stroke="#222" stroke-width="0.9"/>
<line x1="280.90" y1="279.30" x2="280.90" y2="284.40" stroke="#222" stroke-width="0.9"/>
<text x="290.50" y="274.70" font-size="8.3">Fe</text>
<line x1="288.80" y1="279.50" x2="288.80" y2="284.40" stroke="#222" stroke-width="0.9"/>
<line x1="49.50" y1="240.00" x2="49.50" y2="244.40" stroke="#222" stroke-width="0.9"/>
<text x="45.00" y="255.80" font-size="8.3">Fe</text>
<line x1="55.10" y1="248.10" x2="64.40" y2="248.10" stroke="#222" stroke-width="0.9"/>
<line x1="55.10" y1="248.10" x2="55.10" y2="243.40" stroke="#222" stroke-width="0.9"/>
<line x1="56.40" y1="248.10" x2="56.40" y2="243.40" stroke="#222" stroke-width="0.9"/>
<line x1="58.20" y1="248.10" x2="58.20" y2="243.40" stroke="#222" stroke-width="0.9"/>
<line x1="64.40" y1="248.10" x2="64.40" y2="243.40" stroke="#222" stroke-width="0.9"/>
<text x="56.30" y="259.20" font-size="8.3">C</text>
<line x1="69.50" y1="241.40" x2="69.50" y2="246.40" stroke="#222" stroke-width="0.9"/>
<text x="65.70" y="257.40" font-size="8.3">Si</text>
<line x1="85.30" y1="245.30" x2="85.30" y2="250.60" stroke="#222" stroke-width="1.3"/>
<text x="82.50" y="260.80" font-size="8.3">Ti</text>
<line x1="102.40" y1="253.90" x2="102.40" y2="258.70" stroke="#222" stroke-width="0.9"/>
<text x="94.30" y="269.70" font-size="8.3">Ca II</text>
<line x1="131.40" y1="258.60" x2="131.40" y2="263.20" stroke="#222" stroke-width="0.9"/>
<text x="133.00" y="275.00" font-size="8.3">Fe</text>
<line x1="153.20" y1="262.50" x2="153.20" y2="267.10" stroke="#222" stroke-width="0.9"/>
<text x="149.90" y="278.30" font-size="8.3">Ni</text>
<line x1="175.10" y1="271.00" x2="175.10" y2="276.10" stroke="#222" stroke-width="0.9"/>
<line x1="177.60" y1="276.10" x2="191.20" y2="276.10" stroke="#222" stroke-width="0.9"/>
<line x1="177.60" y1="276.10" x2="177.60" y2="271.00" stroke="#222" stroke-width="0.9"/>
<line x1="178.90" y1="276.10" x2="178.90" y2="271.00" stroke="#222" stroke-width="0.9"/>
<line x1="187.20" y1="276.10" x2="187.20" y2="271.00" stroke="#222" stroke-width="0.9"/>
<line x1="191.20" y1="276.10" x2="191.20" y2="271.00" stroke="#222" stroke-width="0.9"/>
<text x="158.60" y="287.10" font-size="8.3">Sr II</text>
<line x1="177.90" y1="284.60" x2="177.90" y2="289.60" stroke="#222" stroke-width="0.9"/>
<text x="179.50" y="287.10" font-size="8.3">Fe</text>
<text x="172.70" y="301.20" font-size="8.3">Ca</text>
<line x1="196.00" y1="279.60" x2="209.80" y2="279.60" stroke="#222" stroke-width="0.9"/>
<line x1="196.00" y1="279.60" x2="196.00" y2="274.60" stroke="#222" stroke-width="0.9"/>
<line x1="197.20" y1="279.60" x2="197.20" y2="274.60" stroke="#222" stroke-width="0.9"/>
<line x1="199.20" y1="279.60" x2="199.20" y2="274.60" stroke="#222" stroke-width="0.9"/>
<line x1="209.80" y1="279.60" x2="209.80" y2="274.60" stroke="#222" stroke-width="0.9"/>
<text x="198.00" y="290.60" font-size="8.3">Fe</text>
<line x1="234.70" y1="298.40" x2="251.70" y2="298.40" stroke="#222" stroke-width="0.9"/>
<line x1="234.70" y1="298.40" x2="234.70" y2="293.90" stroke="#222" stroke-width="0.9"/>
<line x1="239.20" y1="298.40" x2="239.20" y2="293.90" stroke="#222" stroke-width="0.9"/>
<line x1="243.70" y1="298.40" x2="243.70" y2="293.90" stroke="#222" stroke-width="0.9"/>
<line x1="247.30" y1="298.40" x2="247.30" y2="293.90" stroke="#222" stroke-width="0.9"/>
<line x1="251.70" y1="298.40" x2="251.70" y2="293.90" stroke="#222" stroke-width="0.9"/>
<text x="239.30" y="309.70" font-size="8.3">Si</text>
<line x1="261.00" y1="311.30" x2="270.00" y2="311.30" stroke="#222" stroke-width="0.9"/>
<line x1="261.00" y1="311.30" x2="261.00" y2="306.30" stroke="#222" stroke-width="0.9"/>
<line x1="263.70" y1="311.30" x2="263.70" y2="306.30" stroke="#222" stroke-width="0.9"/>
<line x1="266.30" y1="311.30" x2="266.30" y2="306.30" stroke="#222" stroke-width="0.9"/>
<line x1="270.00" y1="311.30" x2="270.00" y2="306.30" stroke="#222" stroke-width="0.9"/>
<text x="260.90" y="321.70" font-size="8.3">Fe</text>
<line x1="272.50" y1="293.00" x2="272.50" y2="319.70" stroke="#222" stroke-width="0.9"/>
<line x1="283.70" y1="305.00" x2="290.00" y2="305.00" stroke="#222" stroke-width="0.9"/>
<line x1="283.70" y1="305.00" x2="283.70" y2="301.10" stroke="#222" stroke-width="0.9"/>
<line x1="286.00" y1="305.00" x2="286.00" y2="301.10" stroke="#222" stroke-width="0.9"/>
<line x1="290.00" y1="305.00" x2="290.00" y2="301.10" stroke="#222" stroke-width="0.9"/>
<text x="282.90" y="316.30" font-size="8.3">Si</text>
<text x="259.00" y="331.00" font-size="8.3">Si/Mg II</text>
<text x="341.80" y="11.00" font-size="8.3">Cr</text>
<line x1="346.30" y1="15.30" x2="346.30" y2="20.70" stroke="#222" stroke-width="0.9"/>
<text x="359.00" y="17.40" font-size="8.3">Ti</text>
<line x1="341.50" y1="22.50" x2="381.70" y2="22.50" stroke="#222" stroke-width="0.9"/>
<line x1="341.50" y1="22.50" x2="341.50" y2="27.60" stroke="#222" stroke-width="0.9"/>
<line x1="350.40" y1="22.50" x2="350.40" y2="27.60" stroke="#222" stroke-width="0.9"/>
<line x1="357.30" y1="22.50" x2="357.30" y2="27.60" stroke="#222" stroke-width="0.9"/>
<line x1="358.00" y1="22.50" x2="358.00" y2="27.60" stroke="#222" stroke-width="0.9"/>
<line x1="363.00" y1="22.50" x2="363.00" y2="27.60" stroke="#222" stroke-width="0.9"/>
<line x1="365.30" y1="22.50" x2="365.30" y2="27.60" stroke="#222" stroke-width="0.9"/>
<line x1="368.00" y1="22.50" x2="368.00" y2="27.60" stroke="#222" stroke-width="0.9"/>
<line x1="370.30" y1="22.50" x2="370.30" y2="27.60" stroke="#222" stroke-width="0.9"/>
<line x1="371.30" y1="22.50" x2="371.30" y2="27.60" stroke="#222" stroke-width="0.9"/>
<line x1="372.30" y1="22.50" x2="372.30" y2="27.60" stroke="#222" stroke-width="0.9"/>
<line x1="374.30" y1="22.50" x2="374.30" y2="27.60" stroke="#222" stroke-width="0.9"/>
<line x1="378.00" y1="22.50" x2="378.00" y2="27.60" stroke="#222" stroke-width="0.9"/>
<line x1="379.00" y1="22.50" x2="379.00" y2="27.60" stroke="#222" stroke-width="0.9"/>
<line x1="379.70" y1="22.50" x2="379.70" y2="27.60" stroke="#222" stroke-width="0.9"/>
<line x1="381.70" y1="22.50" x2="381.70" y2="27.60" stroke="#222" stroke-width="0.9"/>
<text x="405.10" y="24.00" font-size="8.3">Ti</text>
<line x1="389.20" y1="29.40" x2="427.30" y2="29.40" stroke="#222" stroke-width="0.9"/>
<line x1="389.20" y1="29.40" x2="389.20" y2="34.00" stroke="#222" stroke-width="0.9"/>
<line x1="405.00" y1="29.40" x2="405.00" y2="34.00" stroke="#222" stroke-width="0.9"/>
<line x1="416.50" y1="29.40" x2="416.50" y2="34.00" stroke="#222" stroke-width="0.9"/>
<line x1="417.50" y1="29.40" x2="417.50" y2="34.00" stroke="#222" stroke-width="0.9"/>
<line x1="420.50" y1="29.40" x2="420.50" y2="34.00" stroke="#222" stroke-width="0.9"/>
<line x1="422.50" y1="29.40" x2="422.50" y2="34.00" stroke="#222" stroke-width="0.9"/>
<line x1="423.50" y1="29.40" x2="423.50" y2="34.00" stroke="#222" stroke-width="0.9"/>
<line x1="425.50" y1="29.40" x2="425.50" y2="34.00" stroke="#222" stroke-width="0.9"/>
<line x1="427.30" y1="29.40" x2="427.30" y2="34.00" stroke="#222" stroke-width="0.9"/>
<text x="445.60" y="33.00" font-size="8.3">Ni</text>
<line x1="449.60" y1="37.90" x2="449.60" y2="43.30" stroke="#222" stroke-width="0.9"/>
<text x="463.40" y="17.40" font-size="8.3">Fe</text>
<line x1="473.40" y1="22.80" x2="473.40" y2="27.60" stroke="#222" stroke-width="0.9"/>
<text x="461.80" y="30.90" font-size="8.3">Si</text>
<line x1="465.20" y1="36.30" x2="465.20" y2="41.10" stroke="#222" stroke-width="0.9"/>
<text x="479.70" y="22.20" font-size="8.3">Si</text>
<line x1="478.50" y1="26.60" x2="478.50" y2="31.40" stroke="#222" stroke-width="0.9"/>
<text x="468.90" y="40.60" font-size="8.3">Ca</text>
<line x1="474.20" y1="45.40" x2="474.20" y2="50.00" stroke="#222" stroke-width="0.9"/>
<text x="491.50" y="40.60" font-size="8.3">Fe</text>
<line x1="479.50" y1="45.20" x2="513.00" y2="45.20" stroke="#222" stroke-width="0.9"/>
<line x1="479.50" y1="45.20" x2="479.50" y2="49.80" stroke="#222" stroke-width="0.9"/>
<line x1="481.20" y1="45.20" x2="481.20" y2="49.80" stroke="#222" stroke-width="0.9"/>
<line x1="487.60" y1="45.20" x2="487.60" y2="49.80" stroke="#222" stroke-width="0.9"/>
<line x1="495.70" y1="45.20" x2="495.70" y2="49.80" stroke="#222" stroke-width="0.9"/>
<line x1="506.00" y1="45.20" x2="506.00" y2="49.80" stroke="#222" stroke-width="0.9"/>
<line x1="513.00" y1="45.20" x2="513.00" y2="49.80" stroke="#222" stroke-width="0.9"/>
<text x="522.60" y="46.80" font-size="8.3">Si</text>
<line x1="514.20" y1="51.80" x2="538.10" y2="51.80" stroke="#222" stroke-width="0.9"/>
<line x1="514.20" y1="51.80" x2="514.20" y2="56.40" stroke="#222" stroke-width="0.9"/>
<line x1="517.10" y1="51.80" x2="517.10" y2="56.40" stroke="#222" stroke-width="0.9"/>
<line x1="521.30" y1="51.80" x2="521.30" y2="56.40" stroke="#222" stroke-width="0.9"/>
<line x1="526.80" y1="51.80" x2="526.80" y2="56.40" stroke="#222" stroke-width="0.9"/>
<line x1="531.80" y1="51.80" x2="531.80" y2="56.40" stroke="#222" stroke-width="0.9"/>
<line x1="532.80" y1="51.80" x2="532.80" y2="56.40" stroke="#222" stroke-width="0.9"/>
<line x1="538.10" y1="51.80" x2="538.10" y2="56.40" stroke="#222" stroke-width="0.9"/>
<text x="545.90" y="44.90" font-size="8.3">Mg</text>
<line x1="551.50" y1="49.50" x2="551.50" y2="54.20" stroke="#222" stroke-width="0.9"/>
<text x="541.10" y="53.60" font-size="8.3">Si</text>
<line x1="541.00" y1="58.40" x2="557.80" y2="58.40" stroke="#222" stroke-width="0.9"/>
<line x1="541.00" y1="58.40" x2="541.00" y2="62.90" stroke="#222" stroke-width="0.9"/>
<line x1="547.70" y1="58.40" x2="547.70" y2="62.90" stroke="#222" stroke-width="0.9"/>
<line x1="555.30" y1="58.40" x2="555.30" y2="62.90" stroke="#222" stroke-width="0.9"/>
<line x1="557.80" y1="58.40" x2="557.80" y2="62.90" stroke="#222" stroke-width="0.9"/>
<text x="558.50" y="55.90" font-size="8.3">Fe</text>
<line x1="560.00" y1="61.00" x2="566.30" y2="61.00" stroke="#222" stroke-width="0.9"/>
<line x1="560.00" y1="61.00" x2="560.00" y2="66.00" stroke="#222" stroke-width="0.9"/>
<line x1="563.00" y1="61.00" x2="563.00" y2="66.00" stroke="#222" stroke-width="0.9"/>
<line x1="566.30" y1="61.00" x2="566.30" y2="66.00" stroke="#222" stroke-width="0.9"/>
<line x1="568.90" y1="61.80" x2="568.90" y2="67.70" stroke="#222" stroke-width="0.9"/>
<text x="570.70" y="58.00" font-size="8.3">Sr II</text>
<text x="564.40" y="16.30" font-size="8.3">K1.5 III</text>
<line x1="343.40" y1="62.40" x2="359.70" y2="62.40" stroke="#222" stroke-width="0.9"/>
<line x1="343.40" y1="62.40" x2="343.40" y2="57.50" stroke="#222" stroke-width="0.9"/>
<line x1="345.00" y1="62.40" x2="345.00" y2="57.50" stroke="#222" stroke-width="0.9"/>
<line x1="346.30" y1="62.40" x2="346.30" y2="57.50" stroke="#222" stroke-width="0.9"/>
<line x1="356.40" y1="62.40" x2="356.40" y2="57.50" stroke="#222" stroke-width="0.9"/>
<line x1="357.60" y1="62.40" x2="357.60" y2="57.50" stroke="#222" stroke-width="0.9"/>
<line x1="359.70" y1="62.40" x2="359.70" y2="57.50" stroke="#222" stroke-width="0.9"/>
<text x="346.70" y="73.00" font-size="8.3">Fe</text>
<line x1="362.20" y1="69.30" x2="373.50" y2="69.30" stroke="#222" stroke-width="0.9"/>
<line x1="362.20" y1="69.30" x2="362.20" y2="64.20" stroke="#222" stroke-width="0.9"/>
<line x1="373.50" y1="69.30" x2="373.50" y2="64.20" stroke="#222" stroke-width="0.9"/>
<text x="363.50" y="79.70" font-size="8.3">Cr</text>
<line x1="373.50" y1="62.10" x2="378.50" y2="62.10" stroke="#222" stroke-width="0.9"/>
<line x1="373.50" y1="62.10" x2="373.50" y2="57.50" stroke="#222" stroke-width="0.9"/>
<line x1="374.80" y1="62.10" x2="374.80" y2="57.50" stroke="#222" stroke-width="0.9"/>
<line x1="376.00" y1="62.10" x2="376.00" y2="57.50" stroke="#222" stroke-width="0.9"/>
<line x1="377.30" y1="62.10" x2="377.30" y2="57.50" stroke="#222" stroke-width="0.9"/>
<line x1="378.50" y1="62.10" x2="378.50" y2="57.50" stroke="#222" stroke-width="0.9"/>
<text x="377.20" y="73.10" font-size="8.3">Fe</text>
<line x1="393.80" y1="58.00" x2="399.30" y2="58.00" stroke="#222" stroke-width="0.9"/>
<line x1="393.80" y1="58.00" x2="393.80" y2="53.00" stroke="#222" stroke-width="0.9"/>
<line x1="399.30" y1="58.00" x2="399.30" y2="53.00" stroke="#222" stroke-width="0.9"/>
<text x="391.80" y="68.90" font-size="8.3">Fe</text>
<text x="406.40" y="73.10" font-size="8.3">Sr II</text>
<line x1="423.30" y1="57.30" x2="423.30" y2="61.80" stroke="#222" stroke-width="0.9"/>
<line x1="427.50" y1="66.70" x2="461.00" y2="66.70" stroke="#222" stroke-width="0.9"/>
<line x1="427.50" y1="66.70" x2="427.50" y2="62.10" stroke="#222" stroke-width="0.9"/>
<line x1="435.90" y1="66.70" x2="435.90" y2="62.10" stroke="#222" stroke-width="0.9"/>
<line x1="440.90" y1="66.70" x2="440.90" y2="62.10" stroke="#222" stroke-width="0.9"/>
<line x1="442.00" y1="66.70" x2="442.00" y2="62.10" stroke="#222" stroke-width="0.9"/>
<line x1="443.00" y1="66.70" x2="443.00" y2="62.10" stroke="#222" stroke-width="0.9"/>
<line x1="444.00" y1="66.70" x2="444.00" y2="62.10" stroke="#222" stroke-width="0.9"/>
<line x1="445.10" y1="66.70" x2="445.10" y2="62.10" stroke="#222" stroke-width="0.9"/>
<line x1="449.30" y1="66.70" x2="449.30" y2="62.10" stroke="#222" stroke-width="0.9"/>
<line x1="453.50" y1="66.70" x2="453.50" y2="62.10" stroke="#222" stroke-width="0.9"/>
<line x1="461.00" y1="66.70" x2="461.00" y2="62.10" stroke="#222" stroke-width="0.9"/>
<text x="439.70" y="77.60" font-size="8.3">Fe</text>
<line x1="471.70" y1="72.90" x2="480.10" y2="72.90" stroke="#222" stroke-width="0.9"/>
<line x1="471.70" y1="72.90" x2="471.70" y2="68.30" stroke="#222" stroke-width="0.9"/>
<line x1="480.10" y1="72.90" x2="480.10" y2="68.30" stroke="#222" stroke-width="0.9"/>
<text x="472.10" y="84.20" font-size="8.3">Ni</text>
<line x1="483.00" y1="79.60" x2="483.00" y2="84.60" stroke="#222" stroke-width="0.9"/>
<line x1="471.50" y1="86.30" x2="471.50" y2="91.30" stroke="#222" stroke-width="0.9"/>
<text x="480.10" y="95.50" font-size="8.3">Ti</text>
<text x="488.10" y="77.60" font-size="8.3">Cr</text>
<line x1="499.30" y1="73.70" x2="499.30" y2="77.90" stroke="#222" stroke-width="0.9"/>
<text x="496.40" y="88.80" font-size="8.3">Ti</text>
<line x1="517.60" y1="72.90" x2="517.60" y2="77.90" stroke="#222" stroke-width="0.9"/>
<line x1="513.90" y1="84.00" x2="513.90" y2="89.00" stroke="#222" stroke-width="0.9"/>
<text x="515.10" y="88.80" font-size="8.3">Ti</text>
<text x="511.30" y="100.00" font-size="8.3">Ti</text>
<line x1="526.40" y1="87.10" x2="546.00" y2="87.10" stroke="#222" stroke-width="0.9"/>
<line x1="526.40" y1="87.10" x2="526.40" y2="82.10" stroke="#222" stroke-width="0.9"/>
<line x1="529.30" y1="87.10" x2="529.30" y2="82.10" stroke="#222" stroke-width="0.9"/>
<line x1="538.10" y1="87.10" x2="538.10" y2="82.10" stroke="#222" stroke-width="0.9"/>
<line x1="546.00" y1="87.10" x2="546.00" y2="82.10" stroke="#222" stroke-width="0.9"/>
<text x="533.50" y="97.90" font-size="8.3">Ti</text>
<line x1="541.70" y1="93.60" x2="553.00" y2="93.60" stroke="#222" stroke-width="0.9"/>
<line x1="541.70" y1="93.60" x2="541.70" y2="89.20" stroke="#222" stroke-width="0.9"/>
<line x1="544.60" y1="93.60" x2="544.60" y2="89.20" stroke="#222" stroke-width="0.9"/>
<line x1="547.10" y1="93.60" x2="547.10" y2="89.20" stroke="#222" stroke-width="0.9"/>
<line x1="550.00" y1="93.60" x2="550.00" y2="89.20" stroke="#222" stroke-width="0.9"/>
<line x1="553.00" y1="93.60" x2="553.00" y2="89.20" stroke="#222" stroke-width="0.9"/>
<text x="543.00" y="104.70" font-size="8.3">Fe</text>
<line x1="561.00" y1="100.50" x2="564.30" y2="100.50" stroke="#222" stroke-width="0.9"/>
<line x1="561.00" y1="100.50" x2="561.00" y2="95.90" stroke="#222" stroke-width="0.9"/>
<line x1="564.30" y1="100.50" x2="564.30" y2="95.90" stroke="#222" stroke-width="0.9"/>
<text x="559.30" y="111.40" font-size="8.3">Si</text>
<line x1="567.20" y1="91.30" x2="567.20" y2="95.50" stroke="#222" stroke-width="0.9"/>
<text x="568.50" y="106.80" font-size="8.3">Cr</text>
<text x="454.90" y="103.00" font-size="8.3">Sr II</text>
<text x="401.50" y="137.10" font-size="8.3">FeH</text>
<line x1="399.20" y1="141.00" x2="399.20" y2="146.80" stroke="#222" stroke-width="0.9"/>
<line x1="399.20" y1="141.00" x2="415.00" y2="141.00" stroke="#222" stroke-width="0.9"/>
<text x="494.50" y="227.60" font-size="8.3">VO</text>
<line x1="492.80" y1="231.30" x2="492.80" y2="237.40" stroke="#222" stroke-width="0.9"/>
<line x1="492.50" y1="231.30" x2="508.90" y2="231.30" stroke="#222" stroke-width="0.9"/>
<text x="574.80" y="136.20" font-size="8.3">K1 V</text>
<text x="574.80" y="176.20" font-size="8.3">K7 V</text>
<text x="573.70" y="206.30" font-size="8.3">M3 V</text>
<text x="573.20" y="240.90" font-size="8.3">M7 V</text>
<text transform="translate(8.4,253) rotate(-90)" font-size="9.8"><tspan font-style="italic">f</tspan><tspan font-size="6.8" dy="2.2">λ</tspan><tspan dy="-2.2">/</tspan><tspan font-style="italic">f</tspan><tspan font-size="6.8" dy="2.2">λ</tspan><tspan dy="-2.2"> (1.08 µm) + Constant</tspan></text>
</svg></body></html>
